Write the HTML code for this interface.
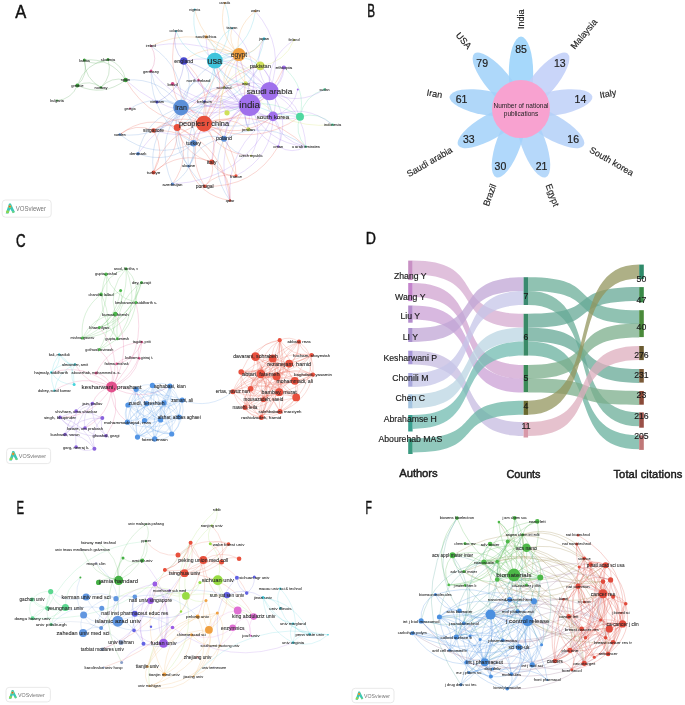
<!DOCTYPE html>
<html><head><meta charset="utf-8"><style>
html,body{margin:0;padding:0;background:#fff;}
body{width:685px;height:705px;overflow:hidden;}
svg{display:block;font-family:"Liberation Sans",sans-serif;filter:blur(0.45px);}
</style></head><body>
<svg width="685" height="705" viewBox="0 0 685 705">
<rect width="685" height="705" fill="#fff"/>
<path d="M269.5 91.2Q263.7 104.9 273.0 116.4M214.8 60.7Q218.9 93.3 249.6 105.0M269.5 91.2Q255.4 92.1 249.6 105.0M249.6 105.0Q257.9 117.7 273.0 116.4M273.0 116.4Q281.8 87.3 260.3 65.8M214.8 60.7Q233.0 92.4 269.5 91.2M269.5 91.2Q272.5 75.7 260.3 65.8M238.9 54.6Q229.1 83.0 249.6 105.0M249.6 105.0Q263.8 61.3 232.0 28.2M273.0 116.4Q269.2 91.7 245.7 83.4M249.6 105.0Q221.2 100.7 204.0 123.7M238.9 54.6Q243.2 82.1 269.5 91.2M305.8 146.6Q304.3 108.0 269.5 91.2M260.3 65.8Q243.2 82.2 249.6 105.0M269.5 91.2Q283.8 83.7 283.9 67.5M269.5 91.2Q227.0 87.8 204.0 123.7M249.6 105.0Q210.1 107.3 193.5 143.2M153.5 130.5Q209.2 146.6 249.6 105.0M172.6 83.8Q204.7 117.5 249.6 105.0M183.8 61.0Q203.5 102.7 249.6 105.0M245.7 83.4Q241.2 95.4 249.6 105.0M273.0 116.4Q280.3 141.3 305.8 146.6M300.0 116.7Q292.4 94.8 269.5 91.2M249.6 105.0Q278.0 96.5 283.9 67.5M249.6 105.0Q214.5 85.7 181.0 107.6M269.5 91.2Q232.5 101.3 224.0 138.7M294.0 40.0Q266.4 58.2 269.5 91.2M269.5 91.2Q259.9 80.2 245.7 83.4M278.3 146.4Q292.0 154.8 305.8 146.6M249.6 105.0Q213.5 122.1 211.7 162.0M278.3 146.4Q290.5 116.2 269.5 91.2M269.5 91.2Q223.8 33.0 151.0 46.0M249.6 105.0Q226.7 114.2 224.0 138.7M269.5 91.2Q220.3 72.9 181.0 107.6M183.8 61.0Q211.8 115.5 273.0 116.4M249.6 105.0Q211.2 146.9 230.0 200.5M269.5 91.2Q286.4 47.0 255.4 11.2M269.5 91.2Q247.5 103.9 248.4 129.2M206.0 36.7Q207.3 83.9 249.6 105.0M249.6 105.0Q179.2 95.9 138.0 153.7M204.5 101.5Q240.1 115.8 269.5 91.2M278.3 146.4Q284.6 129.8 273.0 116.4M224.0 87.4Q231.5 103.9 249.6 105.0M273.0 116.4Q226.3 145.5 230.0 200.5M269.5 91.2Q235.7 50.4 183.8 61.0M172.5 184.0Q243.0 180.3 273.0 116.4M249.6 105.0Q271.3 126.0 300.0 116.7M236.0 175.8Q272.3 157.2 273.0 116.4M249.6 105.0Q241.7 116.7 248.4 129.2M172.6 83.8Q218.8 116.6 269.5 91.2M300.0 116.7Q286.6 108.5 273.0 116.4M198.5 80.0Q216.6 107.8 249.6 105.0M273.0 116.4Q293.5 110.3 297.8 89.4M125.6 80.0Q180.1 129.7 249.6 105.0M151.0 71.0Q190.1 117.6 249.6 105.0M264.0 38.7Q251.0 66.6 269.5 91.2M251.0 155.8Q265.5 130.0 249.6 105.0M269.5 91.2Q297.5 106.8 324.5 89.4M332.6 124.8Q305.3 102.7 273.0 116.4M249.6 105.0Q265.2 142.7 305.8 146.6M249.6 105.0Q251.5 134.3 278.3 146.4" fill="none" stroke="#a070ec" stroke-width="0.55" stroke-opacity="0.42"/>
<path d="M204.0 123.7Q197.3 108.8 181.0 107.6M193.5 143.2Q190.1 130.5 177.2 127.5M204.0 123.7Q212.7 86.3 183.8 61.0M204.0 123.7Q240.7 140.8 273.0 116.4M204.0 123.7Q228.3 95.4 214.8 60.7M204.0 123.7Q254.1 149.0 300.0 116.7M204.0 123.7Q164.1 132.9 153.5 172.4M176.0 31.2Q162.2 85.9 204.0 123.7M177.2 127.5Q164.4 121.9 153.5 130.5M204.0 123.7Q189.5 117.6 177.2 127.5M172.6 83.8Q176.3 113.2 204.0 123.7M188.5 166.2Q199.0 195.8 230.0 200.5M204.0 123.7Q192.9 130.3 193.5 143.2M248.4 129.2Q227.8 113.1 204.0 123.7M238.9 54.6Q200.7 78.7 204.0 123.7M204.0 123.7Q176.7 111.9 153.5 130.5M172.5 184.0Q191.8 157.2 177.2 127.5M236.0 175.8Q217.2 171.6 204.7 186.2M260.3 65.8Q214.8 77.9 204.0 123.7M245.7 83.4Q212.8 91.0 204.0 123.7M236.0 175.8Q235.6 140.2 204.0 123.7M177.2 127.5Q184.1 155.1 211.7 162.0M245.7 83.4Q198.2 84.9 177.2 127.5M211.7 162.0Q192.0 128.8 153.5 130.5M204.0 123.7Q260.8 119.6 283.9 67.5M204.0 123.7Q185.6 155.2 204.7 186.2M211.7 162.0Q219.3 140.5 204.0 123.7M224.0 138.7Q204.0 119.1 177.2 127.5M211.7 162.0Q179.5 149.7 153.5 172.4M153.5 172.4Q178.8 157.1 177.2 127.5M204.0 123.7Q217.9 153.8 251.0 155.8M230.0 200.5Q225.5 148.2 177.2 127.5M204.7 186.2Q253.4 188.4 278.3 146.4M177.2 127.5Q146.4 113.8 119.8 134.5M305.8 146.6Q261.8 104.6 204.0 123.7M125.6 80.0Q151.7 125.4 204.0 123.7M153.5 130.5Q135.5 122.4 119.8 134.5M153.5 172.4Q166.1 151.4 153.5 130.5M230.0 200.5Q232.4 175.8 211.7 162.0M211.7 162.0Q219.7 176.2 236.0 175.8M204.7 186.2Q215.5 176.2 211.7 162.0" fill="none" stroke="#e8503c" stroke-width="0.55" stroke-opacity="0.42"/>
<path d="M181.0 107.6Q167.2 139.1 188.5 166.2M181.0 107.6Q224.4 139.6 273.0 116.4M138.0 153.7Q168.9 165.1 193.5 143.2M181.0 107.6Q155.2 92.8 130.0 108.6M224.0 138.7Q211.8 110.2 181.0 107.6M193.5 143.2Q197.9 121.6 181.0 107.6M119.8 134.5Q154.0 161.0 193.5 143.2M224.0 138.7Q208.5 171.4 230.0 200.5M181.0 107.6Q173.1 116.4 177.2 127.5M181.0 107.6Q196.4 85.1 183.8 61.0M224.0 138.7Q207.4 131.8 193.5 143.2M181.0 107.6Q233.2 110.5 260.3 65.8M181.0 107.6Q147.8 131.8 153.5 172.4M238.9 54.6Q194.0 63.7 181.0 107.6M181.0 107.6Q169.3 154.0 204.7 186.2M198.5 80.0Q181.5 88.5 181.0 107.6M305.8 146.6Q267.3 118.1 224.0 138.7M224.0 87.4Q182.6 116.1 188.5 166.2M151.0 71.0Q150.6 119.8 193.5 143.2M153.5 130.5Q174.1 127.3 181.0 107.6M181.0 107.6Q145.7 117.7 138.0 153.7M224.0 138.7Q198.0 141.8 188.5 166.2M181.0 107.6Q161.6 77.2 125.6 80.0M151.0 71.0Q155.0 98.3 181.0 107.6M181.0 107.6Q184.5 67.8 151.0 46.0M181.0 107.6Q170.7 97.6 157.0 102.0M224.0 138.7Q232.4 155.3 251.0 155.8M188.5 166.2Q197.9 156.2 193.5 143.2M172.5 184.0Q195.2 169.9 193.5 143.2M181.0 107.6Q153.8 143.2 172.5 184.0M119.8 134.5Q158.5 139.4 181.0 107.6M181.0 107.6Q194.6 111.6 204.5 101.5" fill="none" stroke="#5b8fd8" stroke-width="0.55" stroke-opacity="0.42"/>
<path d="M238.9 54.6Q225.0 50.4 214.8 60.7M181.0 107.6Q212.0 94.3 214.8 60.7M214.8 60.7Q240.6 114.3 300.0 116.7M260.3 65.8Q239.1 49.6 214.8 60.7M273.0 116.4Q260.6 71.1 214.8 60.7M224.0 87.4Q258.6 75.1 264.0 38.7M232.0 28.2Q213.7 39.3 214.8 60.7M177.2 127.5Q216.0 105.4 214.8 60.7M214.8 60.7Q223.4 81.3 245.7 83.4M214.8 60.7Q237.1 34.8 224.7 3.0M194.7 9.5Q189.4 41.1 214.8 60.7M176.0 31.2Q186.6 57.6 214.8 60.7M214.8 60.7Q246.0 64.5 264.0 38.7M214.8 60.7Q217.6 46.1 206.0 36.7M214.8 60.7Q250.0 48.1 255.4 11.2M214.8 60.7Q211.4 76.8 224.0 87.4" fill="none" stroke="#40c4dc" stroke-width="0.55" stroke-opacity="0.42"/>
<path d="M238.9 54.6Q209.4 41.3 183.8 61.0M238.9 54.6Q221.6 66.5 224.0 87.4M238.9 54.6Q256.2 54.2 264.0 38.7M238.9 54.6Q201.1 114.3 236.0 175.8M238.9 54.6Q233.7 71.0 245.7 83.4M224.0 138.7Q256.7 101.1 238.9 54.6M255.4 11.2Q234.1 27.9 238.9 54.6M238.9 54.6Q197.5 23.9 151.0 46.0M194.7 9.5Q203.3 45.3 238.9 54.6M260.3 65.8Q253.0 53.8 238.9 54.6M224.7 3.0Q216.3 33.1 238.9 54.6M232.0 28.2Q227.5 43.5 238.9 54.6M206.0 36.7Q217.1 55.5 238.9 54.6" fill="none" stroke="#f0a040" stroke-width="0.55" stroke-opacity="0.42"/>
<path d="M224.0 87.4Q217.9 101.0 227.0 112.8M260.3 65.8Q235.7 65.7 224.0 87.4M260.3 65.8Q284.9 63.0 294.0 40.0M245.7 83.4Q276.7 130.2 332.6 124.8" fill="none" stroke="#cfe05a" stroke-width="0.55" stroke-opacity="0.42"/>
<path d="M157.0 102.0Q182.7 89.5 183.8 61.0M248.4 129.2Q236.6 75.7 183.8 61.0M176.0 31.2Q171.0 48.4 183.8 61.0" fill="none" stroke="#4a4ad0" stroke-width="0.55" stroke-opacity="0.42"/>
<path d="M300.0 116.7Q306.7 87.3 283.9 67.5M300.0 116.7Q264.7 92.8 227.0 112.8M324.5 89.4Q304.1 95.7 300.0 116.7M332.6 124.8Q318.7 111.0 300.0 116.7M300.0 116.7Q293.9 133.4 305.8 146.6" fill="none" stroke="#50d8a0" stroke-width="0.55" stroke-opacity="0.42"/>
<path d="M151.0 71.0Q158.5 58.5 151.0 46.0" fill="none" stroke="#d04a8a" stroke-width="0.55" stroke-opacity="0.42"/>
<path d="M84.4 60.0Q96.4 66.8 108.0 59.4M125.6 80.0Q111.0 57.6 84.4 60.0M84.4 60.0Q84.5 78.7 101.0 87.4M125.6 80.0Q123.0 64.4 108.0 59.4M77.4 85.4Q88.5 74.8 84.4 60.0M108.0 59.4Q84.9 63.2 77.4 85.4M77.4 85.4Q103.1 97.2 125.6 80.0M101.0 87.4Q89.8 79.3 77.4 85.4M101.0 87.4Q112.9 75.5 108.0 59.4M125.6 80.0Q111.1 76.3 101.0 87.4M57.0 100.6Q71.8 99.1 77.4 85.4" fill="none" stroke="#3c9c3c" stroke-width="0.55" stroke-opacity="0.42"/>
<circle cx="251.0" cy="155.8" r="1.0" fill="#cfe05a"/>
<circle cx="297.8" cy="89.4" r="1.0" fill="#a070ec"/>
<circle cx="57.0" cy="100.6" r="1.0" fill="#3c9c3c"/>
<circle cx="151.0" cy="46.0" r="1.0" fill="#d04a8a"/>
<circle cx="130.0" cy="108.6" r="1.0" fill="#d04a8a"/>
<circle cx="224.7" cy="3.0" r="1.0" fill="#f0a040"/>
<circle cx="194.7" cy="9.5" r="1.0" fill="#40c4dc"/>
<circle cx="255.4" cy="11.2" r="1.0" fill="#f0a040"/>
<circle cx="176.0" cy="31.2" r="1.0" fill="#40c4dc"/>
<circle cx="232.0" cy="28.2" r="1.0" fill="#40c4dc"/>
<circle cx="294.0" cy="40.0" r="1.0" fill="#cfe05a"/>
<circle cx="224.0" cy="87.4" r="1.0" fill="#cfe05a"/>
<circle cx="230.0" cy="200.5" r="1.2" fill="#e8503c"/>
<circle cx="188.5" cy="166.2" r="1.2" fill="#5b8fd8"/>
<circle cx="278.3" cy="146.4" r="1.2" fill="#a070ec"/>
<circle cx="305.8" cy="146.6" r="1.2" fill="#50d8a0"/>
<circle cx="332.6" cy="124.8" r="1.2" fill="#50d8a0"/>
<circle cx="324.5" cy="89.4" r="1.2" fill="#50d8a0"/>
<circle cx="119.8" cy="134.5" r="1.2" fill="#5b8fd8"/>
<circle cx="101.0" cy="87.4" r="1.2" fill="#3c9c3c"/>
<circle cx="198.5" cy="80.0" r="1.2" fill="#d04a8a"/>
<circle cx="204.5" cy="101.5" r="1.2" fill="#4a4ad0"/>
<circle cx="172.5" cy="184.0" r="1.5" fill="#5b8fd8"/>
<circle cx="84.4" cy="60.0" r="1.5" fill="#3c9c3c"/>
<circle cx="108.0" cy="59.4" r="1.5" fill="#3c9c3c"/>
<circle cx="151.0" cy="71.0" r="1.5" fill="#d04a8a"/>
<circle cx="157.0" cy="102.0" r="1.5" fill="#4a4ad0"/>
<circle cx="206.0" cy="36.7" r="1.5" fill="#f0a040"/>
<circle cx="264.0" cy="38.7" r="1.5" fill="#40c4dc"/>
<circle cx="236.0" cy="175.8" r="1.6" fill="#e8503c"/>
<circle cx="138.0" cy="153.7" r="1.8" fill="#5b8fd8"/>
<circle cx="204.7" cy="186.2" r="1.8" fill="#e8503c"/>
<circle cx="172.6" cy="83.8" r="1.8" fill="#d04a8a"/>
<circle cx="248.4" cy="129.2" r="2.0" fill="#cfe05a"/>
<circle cx="153.5" cy="172.4" r="2.0" fill="#e8503c"/>
<circle cx="77.4" cy="85.4" r="2.0" fill="#3c9c3c"/>
<circle cx="283.9" cy="67.5" r="2.1" fill="#a070ec"/>
<circle cx="245.7" cy="83.4" r="2.1" fill="#cfe05a"/>
<circle cx="125.6" cy="80.0" r="2.2" fill="#3c9c3c"/>
<circle cx="153.5" cy="130.5" r="2.3" fill="#e8503c"/>
<circle cx="211.7" cy="162.0" r="2.6" fill="#e8503c"/>
<circle cx="227.0" cy="112.8" r="2.6" fill="#cfe05a"/>
<circle cx="224.0" cy="138.7" r="3.0" fill="#5b8fd8"/>
<circle cx="193.5" cy="143.2" r="3.3" fill="#5b8fd8"/>
<circle cx="177.2" cy="127.5" r="3.5" fill="#e8503c"/>
<circle cx="183.8" cy="61.0" r="3.8" fill="#4a4ad0"/>
<circle cx="300.0" cy="116.7" r="4.0" fill="#50d8a0"/>
<circle cx="260.3" cy="65.8" r="4.4" fill="#cfe05a"/>
<circle cx="273.0" cy="116.4" r="4.9" fill="#a070ec"/>
<circle cx="238.9" cy="54.6" r="6.5" fill="#f0a040"/>
<circle cx="181.0" cy="107.6" r="7.8" fill="#5b8fd8"/>
<circle cx="214.8" cy="60.7" r="7.9" fill="#40c4dc"/>
<circle cx="204.0" cy="123.7" r="8.0" fill="#e8503c"/>
<circle cx="269.5" cy="91.2" r="9.1" fill="#a070ec"/>
<circle cx="249.6" cy="105.0" r="10.9" fill="#a070ec"/>
<text x="249.6" y="105.2" font-size="9.01" text-anchor="middle" dominant-baseline="central" fill="#262626" fill-opacity="1.0" stroke="#262626" stroke-width="0.14" stroke-opacity="0.8" textLength="20.7" lengthAdjust="spacingAndGlyphs">india</text>
<text x="269.5" y="91.4" font-size="7.98" text-anchor="middle" dominant-baseline="central" fill="#262626" fill-opacity="1.0" stroke="#262626" stroke-width="0.12" stroke-opacity="0.8" textLength="45.7" lengthAdjust="spacingAndGlyphs">saudi arabia</text>
<text x="214.8" y="60.9" font-size="9.11" text-anchor="middle" dominant-baseline="central" fill="#262626" fill-opacity="1.0" stroke="#262626" stroke-width="0.14" stroke-opacity="0.8" textLength="15.0" lengthAdjust="spacingAndGlyphs">usa</text>
<text x="238.9" y="54.8" font-size="6.30" text-anchor="middle" dominant-baseline="central" fill="#262626" fill-opacity="1.0" stroke="#262626" stroke-width="0.09" stroke-opacity="0.8" textLength="16.2" lengthAdjust="spacingAndGlyphs">egypt</text>
<text x="181.0" y="107.8" font-size="6.38" text-anchor="middle" dominant-baseline="central" fill="#262626" fill-opacity="1.0" stroke="#262626" stroke-width="0.10" stroke-opacity="0.8" textLength="11.7" lengthAdjust="spacingAndGlyphs">iran</text>
<text x="204.0" y="123.9" font-size="7.01" text-anchor="middle" dominant-baseline="central" fill="#262626" fill-opacity="1.0" stroke="#262626" stroke-width="0.11" stroke-opacity="0.8" textLength="50.0" lengthAdjust="spacingAndGlyphs">peoples r china</text>
<text x="273.0" y="116.6" font-size="5.83" text-anchor="middle" dominant-baseline="central" fill="#262626" fill-opacity="1.0" stroke="#262626" stroke-width="0.09" stroke-opacity="0.8" textLength="32.5" lengthAdjust="spacingAndGlyphs">south korea</text>
<text x="260.3" y="66.0" font-size="5.37" text-anchor="middle" dominant-baseline="central" fill="#262626" fill-opacity="1.0" stroke="#262626" stroke-width="0.08" stroke-opacity="0.8" textLength="21.2" lengthAdjust="spacingAndGlyphs">pakistan</text>
<text x="183.8" y="61.2" font-size="5.05" text-anchor="middle" dominant-baseline="central" fill="#262626" fill-opacity="1.0" stroke="#262626" stroke-width="0.08" stroke-opacity="0.8" textLength="19.0" lengthAdjust="spacingAndGlyphs">england</text>
<text x="193.5" y="143.4" font-size="5.14" text-anchor="middle" dominant-baseline="central" fill="#262626" fill-opacity="1.0" stroke="#262626" stroke-width="0.08" stroke-opacity="0.8" textLength="15.2" lengthAdjust="spacingAndGlyphs">turkey</text>
<text x="224.0" y="138.9" font-size="4.97" text-anchor="middle" dominant-baseline="central" fill="#262626" fill-opacity="1.0" stroke="#262626" stroke-width="0.07" stroke-opacity="0.8" textLength="16.2" lengthAdjust="spacingAndGlyphs">poland</text>
<text x="211.7" y="162.2" font-size="5.20" text-anchor="middle" dominant-baseline="central" fill="#262626" fill-opacity="1.0" stroke="#262626" stroke-width="0.08" stroke-opacity="0.8" textLength="10.0" lengthAdjust="spacingAndGlyphs">italy</text>
<text x="283.9" y="67.7" font-size="4.38" text-anchor="middle" dominant-baseline="central" fill="#262626" fill-opacity="1.0" stroke="#262626" stroke-width="0.07" stroke-opacity="0.8" textLength="16.7" lengthAdjust="spacingAndGlyphs">ethiopia</text>
<text x="245.7" y="83.6" font-size="4.36" text-anchor="middle" dominant-baseline="central" fill="#262626" fill-opacity="1.0" stroke="#262626" stroke-width="0.07" stroke-opacity="0.8" textLength="8.0" lengthAdjust="spacingAndGlyphs">iraq</text>
<text x="248.4" y="129.4" font-size="4.33" text-anchor="middle" dominant-baseline="central" fill="#262626" fill-opacity="1.0" stroke="#262626" stroke-width="0.06" stroke-opacity="0.8" textLength="13.2" lengthAdjust="spacingAndGlyphs">jordan</text>
<text x="153.5" y="130.7" font-size="4.53" text-anchor="middle" dominant-baseline="central" fill="#262626" fill-opacity="1.0" stroke="#262626" stroke-width="0.07" stroke-opacity="0.8" textLength="21.0" lengthAdjust="spacingAndGlyphs">singapore</text>
<text x="138.0" y="153.9" font-size="4.04" text-anchor="middle" dominant-baseline="central" fill="#262626" fill-opacity="1.0" stroke="#262626" stroke-width="0.06" stroke-opacity="0.8" textLength="17.0" lengthAdjust="spacingAndGlyphs">denmark</text>
<text x="153.5" y="172.6" font-size="4.20" text-anchor="middle" dominant-baseline="central" fill="#262626" fill-opacity="1.0" stroke="#262626" stroke-width="0.06" stroke-opacity="0.8" textLength="13.5" lengthAdjust="spacingAndGlyphs">turkiye</text>
<text x="204.7" y="186.4" font-size="4.56" text-anchor="middle" dominant-baseline="central" fill="#262626" fill-opacity="1.0" stroke="#262626" stroke-width="0.07" stroke-opacity="0.8" textLength="18.0" lengthAdjust="spacingAndGlyphs">portugal</text>
<text x="236.0" y="176.0" font-size="4.06" text-anchor="middle" dominant-baseline="central" fill="#262626" fill-opacity="1.0" stroke="#262626" stroke-width="0.06" stroke-opacity="0.8" textLength="12.0" lengthAdjust="spacingAndGlyphs">france</text>
<text x="230.0" y="200.7" font-size="3.50" text-anchor="middle" dominant-baseline="central" fill="#262626" fill-opacity="1.0" stroke="#262626" stroke-width="0.05" stroke-opacity="0.8" textLength="8.7" lengthAdjust="spacingAndGlyphs">qatar</text>
<text x="172.5" y="184.2" font-size="4.13" text-anchor="middle" dominant-baseline="central" fill="#262626" fill-opacity="1.0" stroke="#262626" stroke-width="0.06" stroke-opacity="0.8" textLength="20.0" lengthAdjust="spacingAndGlyphs">azerbaijan</text>
<text x="188.5" y="166.4" font-size="3.74" text-anchor="middle" dominant-baseline="central" fill="#262626" fill-opacity="1.0" stroke="#262626" stroke-width="0.06" stroke-opacity="0.8" textLength="13.2" lengthAdjust="spacingAndGlyphs">ukraine</text>
<text x="251.0" y="156.0" font-size="3.56" text-anchor="middle" dominant-baseline="central" fill="#262626" fill-opacity="1.0" stroke="#262626" stroke-width="0.05" stroke-opacity="0.8" textLength="23.7" lengthAdjust="spacingAndGlyphs">czech republic</text>
<text x="278.3" y="146.6" font-size="3.70" text-anchor="middle" dominant-baseline="central" fill="#262626" fill-opacity="1.0" stroke="#262626" stroke-width="0.06" stroke-opacity="0.8" textLength="10.0" lengthAdjust="spacingAndGlyphs">oman</text>
<text x="305.8" y="146.8" font-size="3.83" text-anchor="middle" dominant-baseline="central" fill="#262626" fill-opacity="1.0" stroke="#262626" stroke-width="0.06" stroke-opacity="0.8" textLength="28.2" lengthAdjust="spacingAndGlyphs">u arab emirates</text>
<text x="332.6" y="125.0" font-size="3.73" text-anchor="middle" dominant-baseline="central" fill="#262626" fill-opacity="1.0" stroke="#262626" stroke-width="0.06" stroke-opacity="0.8" textLength="17.0" lengthAdjust="spacingAndGlyphs">indonesia</text>
<text x="324.5" y="89.6" font-size="3.48" text-anchor="middle" dominant-baseline="central" fill="#262626" fill-opacity="1.0" stroke="#262626" stroke-width="0.05" stroke-opacity="0.8" textLength="10.0" lengthAdjust="spacingAndGlyphs">sudan</text>
<text x="119.8" y="134.7" font-size="3.19" text-anchor="middle" dominant-baseline="central" fill="#262626" fill-opacity="1.0" stroke="#262626" stroke-width="0.05" stroke-opacity="0.8" textLength="11.5" lengthAdjust="spacingAndGlyphs">sweden</text>
<text x="84.4" y="60.2" font-size="4.23" text-anchor="middle" dominant-baseline="central" fill="#262626" fill-opacity="1.0" stroke="#262626" stroke-width="0.06" stroke-opacity="0.8" textLength="10.5" lengthAdjust="spacingAndGlyphs">latvia</text>
<text x="108.0" y="59.6" font-size="3.79" text-anchor="middle" dominant-baseline="central" fill="#262626" fill-opacity="1.0" stroke="#262626" stroke-width="0.06" stroke-opacity="0.8" textLength="14.5" lengthAdjust="spacingAndGlyphs">slovenia</text>
<text x="125.6" y="80.2" font-size="3.77" text-anchor="middle" dominant-baseline="central" fill="#262626" fill-opacity="1.0" stroke="#262626" stroke-width="0.06" stroke-opacity="0.8" textLength="9.5" lengthAdjust="spacingAndGlyphs">spain</text>
<text x="77.4" y="85.6" font-size="4.01" text-anchor="middle" dominant-baseline="central" fill="#262626" fill-opacity="1.0" stroke="#262626" stroke-width="0.06" stroke-opacity="0.8" textLength="12.5" lengthAdjust="spacingAndGlyphs">greece</text>
<text x="101.0" y="87.6" font-size="3.76" text-anchor="middle" dominant-baseline="central" fill="#262626" fill-opacity="1.0" stroke="#262626" stroke-width="0.06" stroke-opacity="0.8" textLength="13.0" lengthAdjust="spacingAndGlyphs">norway</text>
<text x="57.0" y="100.8" font-size="3.54" text-anchor="middle" dominant-baseline="central" fill="#262626" fill-opacity="1.0" stroke="#262626" stroke-width="0.05" stroke-opacity="0.8" textLength="13.5" lengthAdjust="spacingAndGlyphs">bulgaria</text>
<text x="151.0" y="46.2" font-size="3.21" text-anchor="middle" dominant-baseline="central" fill="#262626" fill-opacity="1.0" stroke="#262626" stroke-width="0.05" stroke-opacity="0.8" textLength="10.5" lengthAdjust="spacingAndGlyphs">ireland</text>
<text x="151.0" y="71.2" font-size="3.89" text-anchor="middle" dominant-baseline="central" fill="#262626" fill-opacity="1.0" stroke="#262626" stroke-width="0.06" stroke-opacity="0.8" textLength="16.0" lengthAdjust="spacingAndGlyphs">germany</text>
<text x="157.0" y="102.2" font-size="3.71" text-anchor="middle" dominant-baseline="central" fill="#262626" fill-opacity="1.0" stroke="#262626" stroke-width="0.06" stroke-opacity="0.8" textLength="14.0" lengthAdjust="spacingAndGlyphs">vietnam</text>
<text x="130.0" y="108.8" font-size="3.16" text-anchor="middle" dominant-baseline="central" fill="#262626" fill-opacity="1.0" stroke="#262626" stroke-width="0.05" stroke-opacity="0.8" textLength="11.0" lengthAdjust="spacingAndGlyphs">georgia</text>
<text x="224.7" y="3.2" font-size="3.26" text-anchor="middle" dominant-baseline="central" fill="#262626" fill-opacity="1.0" stroke="#262626" stroke-width="0.05" stroke-opacity="0.8" textLength="11.0" lengthAdjust="spacingAndGlyphs">canada</text>
<text x="194.7" y="9.7" font-size="3.44" text-anchor="middle" dominant-baseline="central" fill="#262626" fill-opacity="1.0" stroke="#262626" stroke-width="0.05" stroke-opacity="0.8" textLength="11.0" lengthAdjust="spacingAndGlyphs">nigeria</text>
<text x="255.4" y="11.4" font-size="3.43" text-anchor="middle" dominant-baseline="central" fill="#262626" fill-opacity="1.0" stroke="#262626" stroke-width="0.05" stroke-opacity="0.8" textLength="9.0" lengthAdjust="spacingAndGlyphs">wales</text>
<text x="176.0" y="31.4" font-size="3.02" text-anchor="middle" dominant-baseline="central" fill="#262626" fill-opacity="1.0" stroke="#262626" stroke-width="0.05" stroke-opacity="0.8" textLength="13.0" lengthAdjust="spacingAndGlyphs">colombia</text>
<text x="232.0" y="28.4" font-size="3.54" text-anchor="middle" dominant-baseline="central" fill="#262626" fill-opacity="1.0" stroke="#262626" stroke-width="0.05" stroke-opacity="0.8" textLength="11.0" lengthAdjust="spacingAndGlyphs">taiwan</text>
<text x="206.0" y="36.9" font-size="4.00" text-anchor="middle" dominant-baseline="central" fill="#262626" fill-opacity="1.0" stroke="#262626" stroke-width="0.06" stroke-opacity="0.8" textLength="21.0" lengthAdjust="spacingAndGlyphs">southafrica</text>
<text x="264.0" y="38.9" font-size="3.85" text-anchor="middle" dominant-baseline="central" fill="#262626" fill-opacity="1.0" stroke="#262626" stroke-width="0.06" stroke-opacity="0.8" textLength="10.0" lengthAdjust="spacingAndGlyphs">japan</text>
<text x="294.0" y="40.2" font-size="3.39" text-anchor="middle" dominant-baseline="central" fill="#262626" fill-opacity="1.0" stroke="#262626" stroke-width="0.05" stroke-opacity="0.8" textLength="11.0" lengthAdjust="spacingAndGlyphs">finland</text>
<text x="198.5" y="80.2" font-size="3.92" text-anchor="middle" dominant-baseline="central" fill="#262626" fill-opacity="1.0" stroke="#262626" stroke-width="0.06" stroke-opacity="0.8" textLength="24.0" lengthAdjust="spacingAndGlyphs">north ireland</text>
<text x="224.0" y="87.6" font-size="3.79" text-anchor="middle" dominant-baseline="central" fill="#262626" fill-opacity="1.0" stroke="#262626" stroke-width="0.06" stroke-opacity="0.8" textLength="15.0" lengthAdjust="spacingAndGlyphs">scotland</text>
<text x="172.6" y="84.0" font-size="3.91" text-anchor="middle" dominant-baseline="central" fill="#262626" fill-opacity="1.0" stroke="#262626" stroke-width="0.06" stroke-opacity="0.8" textLength="10.0" lengthAdjust="spacingAndGlyphs">brazil</text>
<text x="204.5" y="101.7" font-size="3.97" text-anchor="middle" dominant-baseline="central" fill="#262626" fill-opacity="1.0" stroke="#262626" stroke-width="0.06" stroke-opacity="0.8" textLength="15.0" lengthAdjust="spacingAndGlyphs">belgium</text>
<rect x="2.2" y="200.0" width="49.0" height="17.2" rx="3.2" fill="#fff" stroke="#e6e6e6" stroke-width="0.9"/>
<path d="M5.70 213.60L9.01 203.60L10.85 203.60L14.90 212.10L12.88 213.30L10.30 209.10L8.46 213.60Z" fill="#3cc8b4"/>
<ellipse cx="7.54" cy="211.80" rx="1.56" ry="1.50" fill="#9ad840" fill-opacity="0.85"/>
<ellipse cx="13.24" cy="212.10" rx="1.29" ry="1.00" fill="#7ad870" fill-opacity="0.7"/>
<circle cx="9.84" cy="206.60" r="1.38" fill="#e0c040"/>
<circle cx="9.84" cy="206.60" r="0.74" fill="#d04030"/>
<text x="15.8" y="211.0" font-size="6.70" fill="#777" textLength="30.2" lengthAdjust="spacingAndGlyphs">VOSviewer</text>
<text transform="translate(15.30 18.00) scale(0.946 1)" font-size="17.44" fill="#111" stroke="#111" stroke-width="0.45">A</text>
<ellipse cx="521.00" cy="73.10" rx="12.2" ry="36.5" fill="#96d1fa" fill-opacity="0.85" transform="rotate(0 521.00 109.10)"/>
<ellipse cx="521.00" cy="73.10" rx="12.2" ry="36.5" fill="#bfcef8" fill-opacity="0.85" transform="rotate(40 521.00 109.10)"/>
<ellipse cx="521.00" cy="73.10" rx="12.2" ry="36.5" fill="#bed0f8" fill-opacity="0.85" transform="rotate(80 521.00 109.10)"/>
<ellipse cx="521.00" cy="73.10" rx="12.2" ry="36.5" fill="#b3d0f8" fill-opacity="0.85" transform="rotate(120 521.00 109.10)"/>
<ellipse cx="521.00" cy="73.10" rx="12.2" ry="36.5" fill="#a9d1f9" fill-opacity="0.85" transform="rotate(160 521.00 109.10)"/>
<ellipse cx="521.00" cy="73.10" rx="12.2" ry="36.5" fill="#a2d1fa" fill-opacity="0.85" transform="rotate(200 521.00 109.10)"/>
<ellipse cx="521.00" cy="73.10" rx="12.2" ry="36.5" fill="#a2d1f9" fill-opacity="0.85" transform="rotate(240 521.00 109.10)"/>
<ellipse cx="521.00" cy="73.10" rx="12.2" ry="36.5" fill="#a2d0f8" fill-opacity="0.85" transform="rotate(280 521.00 109.10)"/>
<ellipse cx="521.00" cy="73.10" rx="12.2" ry="36.5" fill="#a0d1f9" fill-opacity="0.85" transform="rotate(320 521.00 109.10)"/>
<circle cx="521.0" cy="109.1" r="29" fill="#f8a2d0"/>
<text x="521.0" y="108.1" font-size="6.51" text-anchor="middle" fill="#222">Number of national</text>
<text x="521.0" y="115.9" font-size="6.51" text-anchor="middle" fill="#222">publications</text>
<text x="521.0" y="48.8" font-size="10.5" text-anchor="middle" dominant-baseline="central" fill="#222" stroke="#222" stroke-width="0.2">85</text>
<text x="521.0" y="29.1" font-size="9.1" text-anchor="start" dominant-baseline="central" fill="#222" stroke="#222" stroke-width="0.15" transform="rotate(-90 521.0 29.1)">India</text>
<text x="559.8" y="62.9" font-size="10.5" text-anchor="middle" dominant-baseline="central" fill="#222" stroke="#222" stroke-width="0.2">13</text>
<text x="572.4" y="47.8" font-size="9.1" text-anchor="start" dominant-baseline="central" fill="#222" stroke="#222" stroke-width="0.15" transform="rotate(-50 572.4 47.8)">Malaysia</text>
<text x="580.4" y="98.6" font-size="10.5" text-anchor="middle" dominant-baseline="central" fill="#222" stroke="#222" stroke-width="0.2">14</text>
<text x="599.8" y="95.2" font-size="9.1" text-anchor="start" dominant-baseline="central" fill="#222" stroke="#222" stroke-width="0.15" transform="rotate(-10 599.8 95.2)">Italy</text>
<text x="573.2" y="139.2" font-size="10.5" text-anchor="middle" dominant-baseline="central" fill="#222" stroke="#222" stroke-width="0.2">16</text>
<text x="590.3" y="149.1" font-size="9.1" text-anchor="start" dominant-baseline="central" fill="#222" stroke="#222" stroke-width="0.15" transform="rotate(30 590.3 149.1)">South korea</text>
<text x="541.6" y="165.8" font-size="10.5" text-anchor="middle" dominant-baseline="central" fill="#222" stroke="#222" stroke-width="0.2">21</text>
<text x="548.4" y="184.3" font-size="9.1" text-anchor="start" dominant-baseline="central" fill="#222" stroke="#222" stroke-width="0.15" transform="rotate(70 548.4 184.3)">Egypt</text>
<text x="500.4" y="165.8" font-size="10.5" text-anchor="middle" dominant-baseline="central" fill="#222" stroke="#222" stroke-width="0.2">30</text>
<text x="493.6" y="184.3" font-size="9.1" text-anchor="end" dominant-baseline="central" fill="#222" stroke="#222" stroke-width="0.15" transform="rotate(-70 493.6 184.3)">Brazil</text>
<text x="468.8" y="139.3" font-size="10.5" text-anchor="middle" dominant-baseline="central" fill="#222" stroke="#222" stroke-width="0.2">33</text>
<text x="451.7" y="149.1" font-size="9.1" text-anchor="end" dominant-baseline="central" fill="#222" stroke="#222" stroke-width="0.15" transform="rotate(-30 451.7 149.1)">Saudi arabia</text>
<text x="461.6" y="98.6" font-size="10.5" text-anchor="middle" dominant-baseline="central" fill="#222" stroke="#222" stroke-width="0.2">61</text>
<text x="442.2" y="95.2" font-size="9.1" text-anchor="end" dominant-baseline="central" fill="#222" stroke="#222" stroke-width="0.15" transform="rotate(10 442.2 95.2)">Iran</text>
<text x="482.2" y="62.9" font-size="10.5" text-anchor="middle" dominant-baseline="central" fill="#222" stroke="#222" stroke-width="0.2">79</text>
<text x="469.6" y="47.8" font-size="9.1" text-anchor="end" dominant-baseline="central" fill="#222" stroke="#222" stroke-width="0.15" transform="rotate(50 469.6 47.8)">USA</text>
<text transform="translate(367.30 17.20) scale(0.659 1)" font-size="17.73" fill="#111" stroke="#111" stroke-width="0.45">B</text>
<path d="M126.0 268.7Q106.3 274.5 101.0 294.4M136.0 302.4Q140.4 282.7 126.0 268.7M126.0 268.7Q107.9 288.4 115.3 314.1M99.3 327.5Q129.1 305.6 126.0 268.7M117.3 338.7Q141.2 306.1 126.0 268.7M106.0 274.2Q113.1 296.7 136.0 302.4M82.4 338.0Q112.1 312.7 106.0 274.2M106.0 274.2Q93.6 309.6 117.3 338.7M141.5 282.4Q133.2 290.9 136.0 302.4M99.3 327.5Q133.0 316.8 141.5 282.4M82.4 338.0Q127.5 326.7 141.5 282.4M141.5 282.4Q113.6 303.8 117.3 338.7M101.0 294.4Q111.9 297.9 120.6 290.4M115.3 314.1Q124.6 303.7 120.6 290.4M82.4 338.0Q114.8 324.9 120.6 290.4M101.0 294.4Q79.5 311.0 82.4 338.0M99.3 349.5Q115.6 322.4 101.0 294.4M82.4 338.0Q119.2 335.2 136.0 302.4M99.3 349.5Q130.8 336.2 136.0 302.4M99.3 327.5Q111.1 325.3 115.3 314.1M115.3 314.1Q92.2 316.8 82.4 338.0M115.3 314.1Q109.4 327.0 117.3 338.7M99.3 349.5Q117.2 336.3 115.3 314.1" fill="none" stroke="#4cb84c" stroke-width="0.5" stroke-opacity="0.4"/>
<path d="M141.8 342.0Q136.0 349.4 139.3 358.2M116.6 363.7Q135.3 359.9 141.8 342.0M141.8 342.0Q110.3 344.7 96.1 373.0M139.3 358.2Q126.4 354.6 116.6 363.7M111.6 386.9Q133.5 380.3 139.3 358.2M111.6 386.9Q133.8 351.5 115.3 314.1M111.6 386.9Q115.9 364.8 99.3 349.5M111.6 386.9Q139.3 372.9 141.8 342.0M111.6 386.9Q120.6 376.7 116.6 363.7M111.6 386.9Q107.7 375.6 96.1 373.0M75.0 364.4Q87.0 385.9 111.6 386.9M111.6 386.9Q85.5 362.7 51.2 372.4M111.6 386.9Q82.0 372.7 54.4 390.6M111.6 386.9Q97.3 389.9 92.4 403.6M85.0 428.0Q109.8 414.9 111.6 386.9M106.0 435.7Q122.5 412.9 111.6 386.9M111.6 386.9Q141.0 402.8 169.9 386.1M146.6 403.6Q133.8 385.4 111.6 386.9M111.6 386.9Q109.6 409.0 127.4 422.2M111.6 386.9Q122.1 353.8 99.3 327.5M111.6 386.9Q147.5 351.5 136.0 302.4M60.0 417.4Q94.3 416.6 111.6 386.9" fill="none" stroke="#e2508c" stroke-width="0.5" stroke-opacity="0.4"/>
<path d="M59.2 354.4Q64.3 363.8 75.0 364.4M51.2 372.4Q60.2 365.6 59.2 354.4M74.1 384.4Q75.1 365.2 59.2 354.4M59.2 354.4Q46.7 371.2 54.4 390.6M75.0 364.4Q60.9 361.7 51.2 372.4M75.0 364.4Q69.0 374.1 74.1 384.4M75.0 364.4Q57.4 371.7 54.4 390.6M51.2 372.4Q59.3 384.8 74.1 384.4" fill="none" stroke="#48d4dc" stroke-width="0.5" stroke-opacity="0.4"/>
<path d="M92.4 403.6Q82.2 402.8 76.1 411.1M92.4 403.6Q81.9 413.7 85.0 428.0M92.4 403.6Q70.0 411.4 65.0 434.5M92.4 403.6Q90.2 423.5 106.0 435.7M92.4 403.6Q72.1 420.7 76.1 447.0M65.0 434.5Q77.1 425.9 76.1 411.1M102.3 418.1Q81.3 405.9 60.0 417.4M60.0 417.4Q69.5 429.7 85.0 428.0M60.0 417.4Q77.9 439.4 106.0 435.7M94.4 448.7Q86.0 423.4 60.0 417.4M102.3 418.1Q90.9 418.2 85.0 428.0M102.3 418.1Q79.1 415.9 65.0 434.5M102.3 418.1Q99.2 427.9 106.0 435.7M102.3 418.1Q89.8 431.2 94.4 448.7M85.0 428.0Q93.3 437.7 106.0 435.7M94.4 448.7Q83.7 433.4 65.0 434.5M76.1 447.0Q84.8 453.0 94.4 448.7" fill="none" stroke="#8a62dc" stroke-width="0.5" stroke-opacity="0.4"/>
<path d="M169.9 386.1Q161.3 380.9 152.4 385.4M152.4 385.4Q143.2 382.8 136.1 389.3M152.4 385.4Q163.2 401.1 182.2 400.1M146.6 403.6Q154.6 396.1 152.4 385.4M179.2 417.0Q174.6 393.7 152.4 385.4M152.4 385.4Q146.8 404.9 160.6 419.9M144.5 420.5Q158.3 405.2 152.4 385.4M152.4 385.4Q129.6 396.8 127.4 422.2M171.7 434.0Q175.7 404.3 152.4 385.4M152.4 385.4Q130.5 407.1 137.5 437.1M154.7 438.9Q168.5 411.5 152.4 385.4M136.1 389.3Q153.9 397.2 169.9 386.1M169.9 386.1Q172.1 396.5 182.2 400.1M169.9 386.1Q153.3 388.3 146.6 403.6M164.1 402.9Q171.7 396.1 169.9 386.1M179.2 417.0Q183.2 398.9 169.9 386.1M160.6 419.9Q174.7 405.6 169.9 386.1M144.5 420.5Q166.8 410.4 169.9 386.1M127.4 422.2Q158.8 416.0 169.9 386.1M169.9 386.1Q157.4 410.6 171.7 434.0M137.5 437.1Q168.0 420.7 169.9 386.1M127.9 405.0Q136.4 399.4 136.1 389.3M136.1 389.3Q137.3 399.4 146.6 403.6M179.2 417.0Q165.4 391.1 136.1 389.3M136.1 389.3Q139.8 411.5 160.6 419.9M136.1 389.3Q131.6 407.3 144.5 420.5M136.1 389.3Q122.5 403.3 127.4 422.2M171.7 434.0Q166.4 401.7 136.1 389.3M136.1 389.3Q123.4 413.6 137.5 437.1M154.7 438.9Q159.3 408.9 136.1 389.3M182.2 400.1Q153.7 387.3 127.9 405.0M146.6 403.6Q165.4 411.8 182.2 400.1M182.2 400.1Q165.9 404.0 160.6 419.9M144.5 420.5Q169.1 420.9 182.2 400.1M182.2 400.1Q148.6 395.8 127.4 422.2M171.7 434.0Q186.4 420.0 182.2 400.1M182.2 400.1Q149.5 406.1 137.5 437.1M154.7 438.9Q179.3 427.2 182.2 400.1M127.9 405.0Q137.6 409.5 146.6 403.6M127.9 405.0Q150.2 425.4 179.2 417.0M160.6 419.9Q148.4 403.3 127.9 405.0M127.9 405.0Q122.8 413.5 127.4 422.2M127.9 405.0Q141.7 431.8 171.7 434.0M154.7 438.9Q150.8 414.4 127.9 405.0M179.2 417.0Q166.7 401.2 146.6 403.6M146.6 403.6Q149.0 415.7 160.6 419.9M146.6 403.6Q140.8 411.5 144.5 420.5M127.4 422.2Q142.2 418.3 146.6 403.6M146.6 403.6Q132.7 417.8 137.5 437.1M164.1 402.9Q157.6 410.4 160.6 419.9M144.5 420.5Q159.2 417.2 164.1 402.9M164.1 402.9Q140.3 402.3 127.4 422.2M137.5 437.1Q160.4 427.4 164.1 402.9M164.1 402.9Q149.3 418.3 154.7 438.9M179.2 417.0Q169.1 413.2 160.6 419.9M127.4 422.2Q154.8 434.1 179.2 417.0M171.7 434.0Q180.2 427.6 179.2 417.0M179.2 417.0Q152.7 415.4 137.5 437.1M179.2 417.0Q160.8 421.1 154.7 438.9M144.5 420.5Q152.7 424.7 160.6 419.9M171.7 434.0Q170.1 423.8 160.6 419.9M137.5 437.1Q153.9 435.0 160.6 419.9M127.4 422.2Q136.4 426.1 144.5 420.5M144.5 420.5Q154.3 434.9 171.7 434.0M144.5 420.5Q144.4 432.6 154.7 438.9M127.4 422.2Q136.4 438.2 154.7 438.9M171.7 434.0Q153.7 426.0 137.5 437.1M154.7 438.9Q164.6 441.2 171.7 434.0M182.2 400.1Q209.9 410.1 232.8 391.7" fill="none" stroke="#5294e4" stroke-width="0.5" stroke-opacity="0.4"/>
<path d="M299.0 341.7Q289.8 335.5 279.7 340.2M279.7 340.2Q291.5 356.5 311.6 355.0M279.7 340.2Q263.0 341.6 255.5 356.6M279.7 340.2Q271.1 347.3 272.7 358.4M279.7 340.2Q251.5 345.3 241.2 372.0M279.7 340.2Q260.8 351.7 260.8 373.8M279.7 340.2Q286.7 366.8 313.0 374.7M279.7 340.2Q275.9 364.7 294.8 380.8M250.6 388.7Q278.7 372.6 279.7 340.2M232.8 391.7Q270.7 379.1 279.7 340.2M263.4 399.7Q288.2 374.5 279.7 340.2M245.0 407.6Q281.2 383.6 279.7 340.2M261.3 417.6Q292.2 384.1 279.7 340.2M299.0 341.7Q301.6 351.9 311.6 355.0M289.2 363.6Q300.2 355.4 299.0 341.7M241.2 372.0Q278.6 373.0 299.0 341.7M276.6 376.4Q297.5 365.3 299.0 341.7M313.0 374.7Q315.2 354.3 299.0 341.7M299.0 341.7Q275.0 361.4 279.2 392.2M299.0 341.7Q265.0 360.7 263.4 399.7M299.0 341.7Q253.5 359.5 245.0 407.6M255.5 356.6Q284.0 371.5 311.6 355.0M272.7 358.4Q293.1 367.6 311.6 355.0M241.2 372.0Q281.2 383.2 311.6 355.0M311.6 355.0Q280.9 350.2 260.8 373.8M311.6 355.0Q306.8 365.2 313.0 374.7M311.6 355.0Q292.0 371.9 296.2 397.4M311.6 355.0Q263.6 362.7 245.0 407.6M280.0 411.5Q311.6 392.1 311.6 355.0M311.6 355.0Q268.9 372.2 261.3 417.6M272.7 358.4Q264.6 352.7 255.5 356.6M255.5 356.6Q270.4 369.5 289.2 363.6M260.8 373.8Q263.0 363.7 255.5 356.6M255.5 356.6Q260.5 372.4 276.6 376.4M294.8 380.8Q281.9 357.7 255.5 356.6M232.8 391.7Q254.0 380.5 255.5 356.6M279.2 392.2Q277.3 367.8 255.5 356.6M255.5 356.6Q264.4 388.4 296.2 397.4M245.0 407.6Q264.5 385.0 255.5 356.6M261.3 417.6Q275.5 385.5 255.5 356.6M241.2 372.0Q260.8 374.0 272.7 358.4M272.7 358.4Q262.4 362.8 260.8 373.8M276.6 376.4Q279.7 366.3 272.7 358.4M272.7 358.4Q288.3 377.8 313.0 374.7M272.7 358.4Q277.5 375.8 294.8 380.8M272.7 358.4Q253.2 367.4 250.6 388.7M272.7 358.4Q243.4 363.9 232.8 391.7M279.2 392.2Q285.4 373.5 272.7 358.4M272.7 358.4Q273.5 384.5 296.2 397.4M272.7 358.4Q256.5 376.4 263.4 399.7M272.7 358.4Q261.5 387.0 280.0 411.5M261.3 417.6Q283.6 391.2 272.7 358.4M260.8 373.8Q277.9 376.7 289.2 363.6M289.2 363.6Q279.3 366.5 276.6 376.4M289.2 363.6Q287.2 373.8 294.8 380.8M289.2 363.6Q262.9 365.3 250.6 388.7M289.2 363.6Q253.1 361.9 232.8 391.7M289.2 363.6Q276.2 375.1 279.2 392.2M263.4 399.7Q286.4 388.9 289.2 363.6M289.2 363.6Q254.8 373.2 245.0 407.6M289.2 363.6Q260.1 382.8 261.3 417.6M260.8 373.8Q251.5 367.4 241.2 372.0M241.2 372.0Q276.3 393.5 313.0 374.7M241.2 372.0Q265.5 391.4 294.8 380.8M241.2 372.0Q241.2 383.0 250.6 388.7M296.2 397.4Q275.8 369.3 241.2 372.0M263.4 399.7Q260.1 379.6 241.2 372.0M241.2 372.0Q238.5 400.4 261.3 417.6M260.8 373.8Q268.0 379.5 276.6 376.4M260.8 373.8Q286.6 388.9 313.0 374.7M294.8 380.8Q279.8 367.8 260.8 373.8M260.8 373.8Q251.5 378.4 250.6 388.7M260.8 373.8Q264.8 388.2 279.2 392.2M263.4 399.7Q269.4 386.0 260.8 373.8M260.8 373.8Q243.4 386.3 245.0 407.6M280.0 411.5Q281.0 387.3 260.8 373.8M261.3 417.6Q273.3 395.6 260.8 373.8M313.0 374.7Q294.3 365.4 276.6 376.4M276.6 376.4Q260.2 375.3 250.6 388.7M276.6 376.4Q250.4 371.8 232.8 391.7M245.0 407.6Q269.5 400.8 276.6 376.4M280.0 411.5Q288.1 393.0 276.6 376.4M261.3 417.6Q280.5 401.3 276.6 376.4M294.8 380.8Q305.6 382.8 313.0 374.7M313.0 374.7Q277.9 364.2 250.6 388.7M232.8 391.7Q277.7 405.7 313.0 374.7M313.0 374.7Q291.2 374.0 279.2 392.2M313.0 374.7Q269.8 372.1 245.0 407.6M280.0 411.5Q306.8 402.3 313.0 374.7M294.8 380.8Q260.7 368.9 232.8 391.7M296.2 397.4Q300.1 388.7 294.8 380.8M294.8 380.8Q273.8 381.5 263.4 399.7M294.8 380.8Q267.7 389.8 261.3 417.6M232.8 391.7Q242.5 395.2 250.6 388.7M279.2 392.2Q265.9 382.4 250.6 388.7M250.6 388.7Q271.0 405.8 296.2 397.4M250.6 388.7Q253.9 397.8 263.4 399.7M250.6 388.7Q242.5 396.6 245.0 407.6M280.0 411.5Q271.7 391.9 250.6 388.7M250.6 388.7Q247.9 406.1 261.3 417.6M296.2 397.4Q266.1 376.8 232.8 391.7M263.4 399.7Q250.3 387.1 232.8 391.7M232.8 391.7Q250.9 414.8 280.0 411.5M232.8 391.7Q239.8 412.6 261.3 417.6M296.2 397.4Q289.2 390.0 279.2 392.2M279.2 392.2Q269.2 391.5 263.4 399.7M245.0 407.6Q266.4 409.5 279.2 392.2M296.2 397.4Q267.7 388.2 245.0 407.6M296.2 397.4Q284.2 399.9 280.0 411.5M261.3 417.6Q284.4 417.3 296.2 397.4M245.0 407.6Q256.4 408.8 263.4 399.7M263.4 399.7Q257.3 408.1 261.3 417.6M245.0 407.6Q261.4 419.4 280.0 411.5M245.0 407.6Q250.3 417.2 261.3 417.6" fill="none" stroke="#e8503e" stroke-width="0.5" stroke-opacity="0.4"/>
<circle cx="141.8" cy="342.0" r="1.2" fill="#e2508c"/>
<circle cx="139.3" cy="358.2" r="1.2" fill="#e2508c"/>
<circle cx="59.2" cy="354.4" r="1.2" fill="#48d4dc"/>
<circle cx="75.0" cy="364.4" r="1.2" fill="#48d4dc"/>
<circle cx="116.6" cy="363.7" r="1.2" fill="#e2508c"/>
<circle cx="51.2" cy="372.4" r="1.2" fill="#48d4dc"/>
<circle cx="54.4" cy="390.6" r="1.2" fill="#48d4dc"/>
<circle cx="126.0" cy="268.7" r="1.5" fill="#4cb84c"/>
<circle cx="141.5" cy="282.4" r="1.5" fill="#4cb84c"/>
<circle cx="120.6" cy="290.4" r="1.5" fill="#4cb84c"/>
<circle cx="136.0" cy="302.4" r="1.5" fill="#4cb84c"/>
<circle cx="99.3" cy="327.5" r="1.5" fill="#4cb84c"/>
<circle cx="82.4" cy="338.0" r="1.5" fill="#4cb84c"/>
<circle cx="117.3" cy="338.7" r="1.5" fill="#4cb84c"/>
<circle cx="99.3" cy="349.5" r="1.5" fill="#4cb84c"/>
<circle cx="96.1" cy="373.0" r="1.5" fill="#e2508c"/>
<circle cx="74.1" cy="384.4" r="1.5" fill="#48d4dc"/>
<circle cx="106.0" cy="274.2" r="1.8" fill="#4cb84c"/>
<circle cx="101.0" cy="294.4" r="1.8" fill="#4cb84c"/>
<circle cx="92.4" cy="403.6" r="1.8" fill="#8a62dc"/>
<circle cx="76.1" cy="411.1" r="1.8" fill="#8a62dc"/>
<circle cx="60.0" cy="417.4" r="1.8" fill="#8a62dc"/>
<circle cx="85.0" cy="428.0" r="1.8" fill="#8a62dc"/>
<circle cx="65.0" cy="434.5" r="1.8" fill="#8a62dc"/>
<circle cx="106.0" cy="435.7" r="1.8" fill="#8a62dc"/>
<circle cx="76.1" cy="447.0" r="1.8" fill="#8a62dc"/>
<circle cx="102.3" cy="418.1" r="2.0" fill="#8a62dc"/>
<circle cx="94.4" cy="448.7" r="2.0" fill="#8a62dc"/>
<circle cx="279.7" cy="340.2" r="2.1" fill="#e8503e"/>
<circle cx="299.0" cy="341.7" r="2.1" fill="#e8503e"/>
<circle cx="311.6" cy="355.0" r="2.1" fill="#e8503e"/>
<circle cx="313.0" cy="374.7" r="2.1" fill="#e8503e"/>
<circle cx="115.3" cy="314.1" r="2.3" fill="#4cb84c"/>
<circle cx="232.8" cy="391.7" r="2.5" fill="#e8503e"/>
<circle cx="263.4" cy="399.7" r="2.5" fill="#e8503e"/>
<circle cx="245.0" cy="407.6" r="2.5" fill="#e8503e"/>
<circle cx="280.0" cy="411.5" r="2.5" fill="#e8503e"/>
<circle cx="261.3" cy="417.6" r="2.5" fill="#e8503e"/>
<circle cx="152.4" cy="385.4" r="2.6" fill="#5294e4"/>
<circle cx="169.9" cy="386.1" r="2.6" fill="#5294e4"/>
<circle cx="136.1" cy="389.3" r="2.6" fill="#5294e4"/>
<circle cx="182.2" cy="400.1" r="2.6" fill="#5294e4"/>
<circle cx="127.9" cy="405.0" r="2.6" fill="#5294e4"/>
<circle cx="146.6" cy="403.6" r="2.6" fill="#5294e4"/>
<circle cx="164.1" cy="402.9" r="2.6" fill="#5294e4"/>
<circle cx="179.2" cy="417.0" r="2.6" fill="#5294e4"/>
<circle cx="160.6" cy="419.9" r="2.6" fill="#5294e4"/>
<circle cx="144.5" cy="420.5" r="2.6" fill="#5294e4"/>
<circle cx="127.4" cy="422.2" r="2.6" fill="#5294e4"/>
<circle cx="171.7" cy="434.0" r="2.6" fill="#5294e4"/>
<circle cx="137.5" cy="437.1" r="2.6" fill="#5294e4"/>
<circle cx="154.7" cy="438.9" r="2.6" fill="#5294e4"/>
<circle cx="241.2" cy="372.0" r="2.8" fill="#e8503e"/>
<circle cx="250.6" cy="388.7" r="2.8" fill="#e8503e"/>
<circle cx="272.7" cy="358.4" r="3.9" fill="#e8503e"/>
<circle cx="289.2" cy="363.6" r="3.9" fill="#e8503e"/>
<circle cx="276.6" cy="376.4" r="3.9" fill="#e8503e"/>
<circle cx="294.8" cy="380.8" r="3.9" fill="#e8503e"/>
<circle cx="279.2" cy="392.2" r="3.9" fill="#e8503e"/>
<circle cx="296.2" cy="397.4" r="3.9" fill="#e8503e"/>
<circle cx="255.5" cy="356.6" r="4.4" fill="#e8503e"/>
<circle cx="260.8" cy="373.8" r="4.4" fill="#e8503e"/>
<circle cx="111.6" cy="386.9" r="5.5" fill="#e2508c"/>
<text x="126.0" y="268.9" font-size="3.31" text-anchor="middle" dominant-baseline="central" fill="#262626" fill-opacity="1.0" stroke="#262626" stroke-width="0.05" stroke-opacity="0.8" textLength="24.0" lengthAdjust="spacingAndGlyphs">anod, haritha, v</text>
<text x="106.0" y="274.4" font-size="3.76" text-anchor="middle" dominant-baseline="central" fill="#262626" fill-opacity="1.0" stroke="#262626" stroke-width="0.06" stroke-opacity="0.8" textLength="22.0" lengthAdjust="spacingAndGlyphs">gupta, vishal</text>
<text x="141.5" y="282.6" font-size="3.72" text-anchor="middle" dominant-baseline="central" fill="#262626" fill-opacity="1.0" stroke="#262626" stroke-width="0.06" stroke-opacity="0.8" textLength="19.0" lengthAdjust="spacingAndGlyphs">dey, surajit</text>
<text x="101.0" y="294.6" font-size="3.52" text-anchor="middle" dominant-baseline="central" fill="#262626" fill-opacity="1.0" stroke="#262626" stroke-width="0.05" stroke-opacity="0.8" textLength="25.0" lengthAdjust="spacingAndGlyphs">chandra, lallaul</text>
<text x="136.0" y="302.6" font-size="3.70" text-anchor="middle" dominant-baseline="central" fill="#262626" fill-opacity="1.0" stroke="#262626" stroke-width="0.06" stroke-opacity="0.8" textLength="42.0" lengthAdjust="spacingAndGlyphs">kesharwani, siddharth s.</text>
<text x="115.3" y="314.3" font-size="4.21" text-anchor="middle" dominant-baseline="central" fill="#262626" fill-opacity="1.0" stroke="#262626" stroke-width="0.06" stroke-opacity="0.8" textLength="27.0" lengthAdjust="spacingAndGlyphs">kumar, hitesh</text>
<text x="99.3" y="327.7" font-size="4.11" text-anchor="middle" dominant-baseline="central" fill="#262626" fill-opacity="1.0" stroke="#262626" stroke-width="0.06" stroke-opacity="0.8" textLength="20.0" lengthAdjust="spacingAndGlyphs">khan, ilyas</text>
<text x="82.4" y="338.2" font-size="3.46" text-anchor="middle" dominant-baseline="central" fill="#262626" fill-opacity="1.0" stroke="#262626" stroke-width="0.05" stroke-opacity="0.8" textLength="24.0" lengthAdjust="spacingAndGlyphs">mishra, gaurav</text>
<text x="117.3" y="338.9" font-size="3.76" text-anchor="middle" dominant-baseline="central" fill="#262626" fill-opacity="1.0" stroke="#262626" stroke-width="0.06" stroke-opacity="0.8" textLength="24.0" lengthAdjust="spacingAndGlyphs">gupta, umesh</text>
<text x="99.3" y="349.7" font-size="3.60" text-anchor="middle" dominant-baseline="central" fill="#262626" fill-opacity="1.0" stroke="#262626" stroke-width="0.05" stroke-opacity="0.8" textLength="28.0" lengthAdjust="spacingAndGlyphs">gothwal, avinash</text>
<text x="141.8" y="342.2" font-size="3.58" text-anchor="middle" dominant-baseline="central" fill="#262626" fill-opacity="1.0" stroke="#262626" stroke-width="0.05" stroke-opacity="0.8" textLength="18.0" lengthAdjust="spacingAndGlyphs">tagde, priti</text>
<text x="139.3" y="358.4" font-size="3.58" text-anchor="middle" dominant-baseline="central" fill="#262626" fill-opacity="1.0" stroke="#262626" stroke-width="0.05" stroke-opacity="0.8" textLength="28.0" lengthAdjust="spacingAndGlyphs">kulkarni, giriraj t.</text>
<text x="59.2" y="354.6" font-size="3.59" text-anchor="middle" dominant-baseline="central" fill="#262626" fill-opacity="1.0" stroke="#262626" stroke-width="0.05" stroke-opacity="0.8" textLength="21.0" lengthAdjust="spacingAndGlyphs">kali, manikdi</text>
<text x="75.0" y="364.6" font-size="3.59" text-anchor="middle" dominant-baseline="central" fill="#262626" fill-opacity="1.0" stroke="#262626" stroke-width="0.05" stroke-opacity="0.8" textLength="26.0" lengthAdjust="spacingAndGlyphs">alexander, amit</text>
<text x="116.6" y="363.9" font-size="3.60" text-anchor="middle" dominant-baseline="central" fill="#262626" fill-opacity="1.0" stroke="#262626" stroke-width="0.05" stroke-opacity="0.8" textLength="24.0" lengthAdjust="spacingAndGlyphs">fatima, mahak</text>
<text x="51.2" y="372.6" font-size="3.92" text-anchor="middle" dominant-baseline="central" fill="#262626" fill-opacity="1.0" stroke="#262626" stroke-width="0.06" stroke-opacity="0.8" textLength="34.0" lengthAdjust="spacingAndGlyphs">hajmaly, siddharth</text>
<text x="96.1" y="373.2" font-size="3.64" text-anchor="middle" dominant-baseline="central" fill="#262626" fill-opacity="1.0" stroke="#262626" stroke-width="0.05" stroke-opacity="0.8" textLength="49.0" lengthAdjust="spacingAndGlyphs">abourehab, mohammed a. s.</text>
<text x="111.6" y="387.1" font-size="5.98" text-anchor="middle" dominant-baseline="central" fill="#262626" fill-opacity="1.0" stroke="#262626" stroke-width="0.09" stroke-opacity="0.8" textLength="60.0" lengthAdjust="spacingAndGlyphs">kesharwani, prashant</text>
<text x="54.4" y="390.8" font-size="3.70" text-anchor="middle" dominant-baseline="central" fill="#262626" fill-opacity="1.0" stroke="#262626" stroke-width="0.06" stroke-opacity="0.8" textLength="33.0" lengthAdjust="spacingAndGlyphs">dubey, sunil kumar</text>
<text x="92.4" y="403.8" font-size="4.06" text-anchor="middle" dominant-baseline="central" fill="#262626" fill-opacity="1.0" stroke="#262626" stroke-width="0.06" stroke-opacity="0.8" textLength="20.0" lengthAdjust="spacingAndGlyphs">jain, pallav</text>
<text x="76.1" y="411.3" font-size="3.96" text-anchor="middle" dominant-baseline="central" fill="#262626" fill-opacity="1.0" stroke="#262626" stroke-width="0.06" stroke-opacity="0.8" textLength="42.0" lengthAdjust="spacingAndGlyphs">shivhare, uma shankar</text>
<text x="60.0" y="417.6" font-size="4.04" text-anchor="middle" dominant-baseline="central" fill="#262626" fill-opacity="1.0" stroke="#262626" stroke-width="0.06" stroke-opacity="0.8" textLength="32.0" lengthAdjust="spacingAndGlyphs">singh, bhupinder</text>
<text x="85.0" y="428.2" font-size="4.00" text-anchor="middle" dominant-baseline="central" fill="#262626" fill-opacity="1.0" stroke="#262626" stroke-width="0.06" stroke-opacity="0.8" textLength="36.0" lengthAdjust="spacingAndGlyphs">katare, om prakash</text>
<text x="65.0" y="434.7" font-size="3.94" text-anchor="middle" dominant-baseline="central" fill="#262626" fill-opacity="1.0" stroke="#262626" stroke-width="0.06" stroke-opacity="0.8" textLength="29.0" lengthAdjust="spacingAndGlyphs">kushwah, varun</text>
<text x="106.0" y="435.9" font-size="4.16" text-anchor="middle" dominant-baseline="central" fill="#262626" fill-opacity="1.0" stroke="#262626" stroke-width="0.06" stroke-opacity="0.8" textLength="27.0" lengthAdjust="spacingAndGlyphs">ghoshal, gargi</text>
<text x="76.1" y="447.2" font-size="3.96" text-anchor="middle" dominant-baseline="central" fill="#262626" fill-opacity="1.0" stroke="#262626" stroke-width="0.06" stroke-opacity="0.8" textLength="26.0" lengthAdjust="spacingAndGlyphs">garg, neeraj k.</text>
<text x="169.9" y="386.3" font-size="4.82" text-anchor="middle" dominant-baseline="central" fill="#262626" fill-opacity="1.0" stroke="#262626" stroke-width="0.07" stroke-opacity="0.8" textLength="32.0" lengthAdjust="spacingAndGlyphs">aghabasi, kian</text>
<text x="182.2" y="400.3" font-size="4.44" text-anchor="middle" dominant-baseline="central" fill="#262626" fill-opacity="1.0" stroke="#262626" stroke-width="0.07" stroke-opacity="0.8" textLength="22.0" lengthAdjust="spacingAndGlyphs">zamani, ali</text>
<text x="146.6" y="403.8" font-size="4.80" text-anchor="middle" dominant-baseline="central" fill="#262626" fill-opacity="1.0" stroke="#262626" stroke-width="0.07" stroke-opacity="0.8" textLength="36.0" lengthAdjust="spacingAndGlyphs">zuedi, fereshteh</text>
<text x="179.2" y="417.2" font-size="4.47" text-anchor="middle" dominant-baseline="central" fill="#262626" fill-opacity="1.0" stroke="#262626" stroke-width="0.07" stroke-opacity="0.8" textLength="43.0" lengthAdjust="spacingAndGlyphs">afshar, abbas aghaei</text>
<text x="127.4" y="422.4" font-size="4.34" text-anchor="middle" dominant-baseline="central" fill="#262626" fill-opacity="1.0" stroke="#262626" stroke-width="0.07" stroke-opacity="0.8" textLength="47.0" lengthAdjust="spacingAndGlyphs">mohammadnejad, reza</text>
<text x="154.7" y="439.1" font-size="4.12" text-anchor="middle" dominant-baseline="central" fill="#262626" fill-opacity="1.0" stroke="#262626" stroke-width="0.06" stroke-opacity="0.8" textLength="26.0" lengthAdjust="spacingAndGlyphs">fatemi, ensan</text>
<text x="299.0" y="341.9" font-size="4.13" text-anchor="middle" dominant-baseline="central" fill="#262626" fill-opacity="1.0" stroke="#262626" stroke-width="0.06" stroke-opacity="0.8" textLength="23.0" lengthAdjust="spacingAndGlyphs">abbasi, reza</text>
<text x="311.6" y="355.2" font-size="4.11" text-anchor="middle" dominant-baseline="central" fill="#262626" fill-opacity="1.0" stroke="#262626" stroke-width="0.06" stroke-opacity="0.8" textLength="37.0" lengthAdjust="spacingAndGlyphs">hocham, shayestah</text>
<text x="255.5" y="356.8" font-size="4.95" text-anchor="middle" dominant-baseline="central" fill="#262626" fill-opacity="1.0" stroke="#262626" stroke-width="0.07" stroke-opacity="0.8" textLength="44.6" lengthAdjust="spacingAndGlyphs">davarani, sohrabeh</text>
<text x="289.2" y="363.8" font-size="5.25" text-anchor="middle" dominant-baseline="central" fill="#262626" fill-opacity="1.0" stroke="#262626" stroke-width="0.08" stroke-opacity="0.8" textLength="44.0" lengthAdjust="spacingAndGlyphs">rezanejam, hamid</text>
<text x="260.8" y="374.0" font-size="5.25" text-anchor="middle" dominant-baseline="central" fill="#262626" fill-opacity="1.0" stroke="#262626" stroke-width="0.08" stroke-opacity="0.8" textLength="37.6" lengthAdjust="spacingAndGlyphs">abtari, fatemeh</text>
<text x="313.0" y="374.9" font-size="4.34" text-anchor="middle" dominant-baseline="central" fill="#262626" fill-opacity="1.0" stroke="#262626" stroke-width="0.07" stroke-opacity="0.8" textLength="38.0" lengthAdjust="spacingAndGlyphs">baghdadi, yasamin</text>
<text x="294.8" y="381.0" font-size="4.82" text-anchor="middle" dominant-baseline="central" fill="#262626" fill-opacity="1.0" stroke="#262626" stroke-width="0.07" stroke-opacity="0.8" textLength="36.5" lengthAdjust="spacingAndGlyphs">mohammadi, ali</text>
<text x="232.8" y="391.9" font-size="4.45" text-anchor="middle" dominant-baseline="central" fill="#262626" fill-opacity="1.0" stroke="#262626" stroke-width="0.07" stroke-opacity="0.8" textLength="34.0" lengthAdjust="spacingAndGlyphs">ertas, yavuz nuri</text>
<text x="279.2" y="392.4" font-size="4.95" text-anchor="middle" dominant-baseline="central" fill="#262626" fill-opacity="1.0" stroke="#262626" stroke-width="0.07" stroke-opacity="0.8" textLength="35.3" lengthAdjust="spacingAndGlyphs">bambay, murat</text>
<text x="263.4" y="399.9" font-size="4.42" text-anchor="middle" dominant-baseline="central" fill="#262626" fill-opacity="1.0" stroke="#262626" stroke-width="0.07" stroke-opacity="0.8" textLength="39.6" lengthAdjust="spacingAndGlyphs">mousazadeh, saeid</text>
<text x="245.0" y="407.8" font-size="4.53" text-anchor="middle" dominant-baseline="central" fill="#262626" fill-opacity="1.0" stroke="#262626" stroke-width="0.07" stroke-opacity="0.8" textLength="24.8" lengthAdjust="spacingAndGlyphs">nasehi, leila</text>
<text x="280.0" y="411.7" font-size="4.13" text-anchor="middle" dominant-baseline="central" fill="#262626" fill-opacity="1.0" stroke="#262626" stroke-width="0.06" stroke-opacity="0.8" textLength="43.0" lengthAdjust="spacingAndGlyphs">salehbabaei, marziyeh</text>
<text x="261.3" y="417.8" font-size="4.38" text-anchor="middle" dominant-baseline="central" fill="#262626" fill-opacity="1.0" stroke="#262626" stroke-width="0.07" stroke-opacity="0.8" textLength="40.3" lengthAdjust="spacingAndGlyphs">rashidzadeh, hamid</text>
<rect x="6.6" y="448.3" width="44.0" height="15.3" rx="3.2" fill="#fff" stroke="#e6e6e6" stroke-width="0.9"/>
<path d="M9.20 460.60L12.37 451.00L14.13 451.00L18.00 459.16L16.06 460.31L13.60 456.28L11.84 460.60Z" fill="#3cc8b4"/>
<ellipse cx="10.96" cy="458.87" rx="1.50" ry="1.44" fill="#9ad840" fill-opacity="0.85"/>
<ellipse cx="16.42" cy="459.16" rx="1.23" ry="0.96" fill="#7ad870" fill-opacity="0.7"/>
<circle cx="13.16" cy="453.88" r="1.32" fill="#e0c040"/>
<circle cx="13.16" cy="453.88" r="0.70" fill="#d04030"/>
<text x="18.8" y="458.0" font-size="5.73" fill="#777" textLength="27.2" lengthAdjust="spacingAndGlyphs">VOSviewer</text>
<text transform="translate(16.10 246.52) scale(0.747 1)" font-size="17.80" fill="#111" stroke="#111" stroke-width="0.45">C</text>
<path d="M412.6 260.6C490.3 260.6 445.9 313.8 523.6 313.8L523.6 327.7C445.9 327.7 490.3 274.5 412.6 274.5Z" fill="#d6abd0" fill-opacity="0.75"/>
<path d="M412.6 283.0C490.3 283.0 445.9 365.0 523.6 365.0L523.6 378.9C445.9 378.9 490.3 296.9 412.6 296.9Z" fill="#d0a3d0" fill-opacity="0.75"/>
<path d="M412.6 305.5C490.3 305.5 445.9 378.6 523.6 378.6L523.6 392.5C445.9 392.5 490.3 319.4 412.6 319.4Z" fill="#cba0d6" fill-opacity="0.75"/>
<path d="M412.6 328.0C490.3 328.0 445.9 277.2 523.6 277.2L523.6 291.1C445.9 291.1 490.3 341.9 412.6 341.9Z" fill="#c0a6d6" fill-opacity="0.75"/>
<path d="M412.6 350.7C490.3 350.7 445.9 422.0 523.6 422.0L523.6 435.9C445.9 435.9 490.3 364.6 412.6 364.6Z" fill="#c6bbe0" fill-opacity="0.75"/>
<path d="M412.6 373.0C490.3 373.0 445.9 291.1 523.6 291.1L523.6 305.0C445.9 305.0 490.3 386.9 412.6 386.9Z" fill="#c6c6e8" fill-opacity="0.75"/>
<path d="M412.6 394.3C490.3 394.3 445.9 327.7 523.6 327.7L523.6 341.6C445.9 341.6 490.3 408.2 412.6 408.2Z" fill="#bbd6e3" fill-opacity="0.75"/>
<path d="M412.6 415.0C490.3 415.0 445.9 341.6 523.6 341.6L523.6 355.5C445.9 355.5 490.3 428.9 412.6 428.9Z" fill="#70bbb0" fill-opacity="0.75"/>
<path d="M412.6 438.5C490.3 438.5 445.9 400.8 523.6 400.8L523.6 414.7C445.9 414.7 490.3 452.4 412.6 452.4Z" fill="#6bb6a6" fill-opacity="0.75"/>
<path d="M528.1 277.2C605.9 277.2 561.4 310.2 639.2 310.2L639.2 324.1C561.4 324.1 605.9 291.1 528.1 291.1Z" fill="#6bae98" fill-opacity="0.75"/>
<path d="M528.1 291.1C605.9 291.1 561.4 412.4 639.2 412.4L639.2 426.3C561.4 426.3 605.9 305.0 528.1 305.0Z" fill="#6bae98" fill-opacity="0.75"/>
<path d="M528.1 313.8C605.9 313.8 561.4 287.1 639.2 287.1L639.2 301.0C561.4 301.0 605.9 327.7 528.1 327.7Z" fill="#66a896" fill-opacity="0.75"/>
<path d="M528.1 327.7C605.9 327.7 561.4 369.0 639.2 369.0L639.2 382.9C561.4 382.9 605.9 341.6 528.1 341.6Z" fill="#66a896" fill-opacity="0.75"/>
<path d="M528.1 341.6C605.9 341.6 561.4 435.4 639.2 435.4L639.2 449.3C561.4 449.3 605.9 355.5 528.1 355.5Z" fill="#68b09e" fill-opacity="0.75"/>
<path d="M528.1 365.0C605.9 365.0 561.4 323.6 639.2 323.6L639.2 337.5C561.4 337.5 605.9 378.9 528.1 378.9Z" fill="#7bae8b" fill-opacity="0.75"/>
<path d="M528.1 378.6C605.9 378.6 561.4 391.0 639.2 391.0L639.2 404.9C561.4 404.9 605.9 392.5 528.1 392.5Z" fill="#7bae8b" fill-opacity="0.75"/>
<path d="M528.1 400.8C605.9 400.8 561.4 264.6 639.2 264.6L639.2 278.5C561.4 278.5 605.9 414.7 528.1 414.7Z" fill="#93965e" fill-opacity="0.75"/>
<path d="M528.1 422.0C605.9 422.0 561.4 346.0 639.2 346.0L639.2 359.9C561.4 359.9 605.9 435.9 528.1 435.9Z" fill="#deaebe" fill-opacity="0.75"/>
<rect x="408.2" y="260.6" width="4.4" height="19.5" fill="#c890c4"/>
<rect x="408.2" y="283.0" width="4.4" height="18.1" fill="#c484cc"/>
<rect x="408.2" y="305.5" width="4.4" height="17.2" fill="#b48ccc"/>
<rect x="408.2" y="328.0" width="4.4" height="14.0" fill="#a890cc"/>
<rect x="408.2" y="350.7" width="4.4" height="13.6" fill="#a898d8"/>
<rect x="408.2" y="373.0" width="4.4" height="13.7" fill="#a8a8dc"/>
<rect x="408.2" y="394.3" width="4.4" height="14.0" fill="#a4c4e0"/>
<rect x="408.2" y="415.0" width="4.4" height="16.5" fill="#3aa090"/>
<rect x="408.2" y="438.5" width="4.4" height="15.5" fill="#3a9a80"/>
<rect x="523.6" y="277.2" width="4.5" height="27.8" fill="#3a8a70"/>
<rect x="523.6" y="313.8" width="4.5" height="41.8" fill="#3a8a68"/>
<rect x="523.6" y="365.0" width="4.5" height="27.2" fill="#3a8a58"/>
<rect x="523.6" y="400.8" width="4.5" height="14.1" fill="#6a6a30"/>
<rect x="523.6" y="422.0" width="4.5" height="15.5" fill="#d898a8"/>
<rect x="639.2" y="264.6" width="4.6" height="14.4" fill="#2f8a6a"/>
<rect x="639.2" y="287.1" width="4.6" height="15.3" fill="#3a8a48"/>
<rect x="639.2" y="310.2" width="4.6" height="26.9" fill="#4a8a3a"/>
<rect x="639.2" y="346.0" width="4.6" height="14.1" fill="#6a5a30"/>
<rect x="639.2" y="369.0" width="4.6" height="13.6" fill="#7a5a38"/>
<rect x="639.2" y="391.0" width="4.6" height="13.7" fill="#8a4a38"/>
<rect x="639.2" y="412.4" width="4.6" height="15.3" fill="#9a5048"/>
<rect x="639.2" y="435.4" width="4.6" height="14.5" fill="#c07878"/>
<text x="410.3" y="276.3" font-size="8.7" text-anchor="middle" dominant-baseline="central" fill="#1a1a1a" stroke="#1a1a1a" stroke-width="0.15">Zhang Y</text>
<text x="410.3" y="296.5" font-size="8.7" text-anchor="middle" dominant-baseline="central" fill="#1a1a1a" stroke="#1a1a1a" stroke-width="0.15">Wang Y</text>
<text x="410.3" y="316.3" font-size="8.7" text-anchor="middle" dominant-baseline="central" fill="#1a1a1a" stroke="#1a1a1a" stroke-width="0.15">Liu Y</text>
<text x="410.3" y="337.0" font-size="8.7" text-anchor="middle" dominant-baseline="central" fill="#1a1a1a" stroke="#1a1a1a" stroke-width="0.15">LI Y</text>
<text x="410.3" y="357.8" font-size="8.7" text-anchor="middle" dominant-baseline="central" fill="#1a1a1a" stroke="#1a1a1a" stroke-width="0.15">Kesharwani P</text>
<text x="410.3" y="378.0" font-size="8.7" text-anchor="middle" dominant-baseline="central" fill="#1a1a1a" stroke="#1a1a1a" stroke-width="0.15">Chonili M</text>
<text x="410.3" y="398.4" font-size="8.7" text-anchor="middle" dominant-baseline="central" fill="#1a1a1a" stroke="#1a1a1a" stroke-width="0.15">Chen C</text>
<text x="410.3" y="418.8" font-size="8.7" text-anchor="middle" dominant-baseline="central" fill="#1a1a1a" stroke="#1a1a1a" stroke-width="0.15">Abrahamse H</text>
<text x="410.3" y="439.0" font-size="8.7" text-anchor="middle" dominant-baseline="central" fill="#1a1a1a" stroke="#1a1a1a" stroke-width="0.15">Abourehab MAS</text>
<text x="526.0" y="295.7" font-size="8.7" text-anchor="middle" dominant-baseline="central" fill="#1a1a1a" stroke="#1a1a1a" stroke-width="0.15">7</text>
<text x="526.0" y="336.8" font-size="8.7" text-anchor="middle" dominant-baseline="central" fill="#1a1a1a" stroke="#1a1a1a" stroke-width="0.15">6</text>
<text x="526.0" y="378.2" font-size="8.7" text-anchor="middle" dominant-baseline="central" fill="#1a1a1a" stroke="#1a1a1a" stroke-width="0.15">5</text>
<text x="526.0" y="406.3" font-size="8.7" text-anchor="middle" dominant-baseline="central" fill="#1a1a1a" stroke="#1a1a1a" stroke-width="0.15">4</text>
<text x="526.0" y="426.0" font-size="8.7" text-anchor="middle" dominant-baseline="central" fill="#1a1a1a" stroke="#1a1a1a" stroke-width="0.15">11</text>
<text x="641.4" y="279.3" font-size="8.7" text-anchor="middle" dominant-baseline="central" fill="#1a1a1a" stroke="#1a1a1a" stroke-width="0.15">50</text>
<text x="641.4" y="299.6" font-size="8.7" text-anchor="middle" dominant-baseline="central" fill="#1a1a1a" stroke="#1a1a1a" stroke-width="0.15">47</text>
<text x="641.4" y="326.5" font-size="8.7" text-anchor="middle" dominant-baseline="central" fill="#1a1a1a" stroke="#1a1a1a" stroke-width="0.15">40</text>
<text x="641.4" y="354.5" font-size="8.7" text-anchor="middle" dominant-baseline="central" fill="#1a1a1a" stroke="#1a1a1a" stroke-width="0.15">276</text>
<text x="641.4" y="375.0" font-size="8.7" text-anchor="middle" dominant-baseline="central" fill="#1a1a1a" stroke="#1a1a1a" stroke-width="0.15">231</text>
<text x="641.4" y="395.4" font-size="8.7" text-anchor="middle" dominant-baseline="central" fill="#1a1a1a" stroke="#1a1a1a" stroke-width="0.15">23</text>
<text x="641.4" y="415.8" font-size="8.7" text-anchor="middle" dominant-baseline="central" fill="#1a1a1a" stroke="#1a1a1a" stroke-width="0.15">216</text>
<text x="641.4" y="436.2" font-size="8.7" text-anchor="middle" dominant-baseline="central" fill="#1a1a1a" stroke="#1a1a1a" stroke-width="0.15">205</text>
<text x="399.3" y="476.6" font-size="11.3" fill="#1a1a1a" stroke="#1a1a1a" stroke-width="0.45" textLength="38.3">Authors</text>
<text x="506.6" y="478.4" font-size="10.9" fill="#1a1a1a" stroke="#1a1a1a" stroke-width="0.45" textLength="33.8">Counts</text>
<text x="613.4" y="477.6" font-size="11.2" fill="#1a1a1a" stroke="#1a1a1a" stroke-width="0.45" textLength="69">Total citations</text>
<text transform="translate(365.70 243.70) scale(0.830 1)" font-size="17.01" fill="#111" stroke="#111" stroke-width="0.45">D</text>
<path d="M154.8 584.1Q160.5 591.3 169.6 590.3M155.0 583.9Q160.5 591.2 169.6 590.3M172.5 627.5Q163.6 632.8 163.5 643.2M163.5 643.2Q137.2 641.1 121.6 662.4M172.5 627.5Q228.5 668.8 293.0 642.7M184.5 573.2Q154.4 602.3 163.5 643.2M169.6 590.3Q151.7 615.0 163.5 643.2M150.5 600.7Q135.0 620.2 143.5 643.7M150.5 600.7Q157.5 593.6 155.0 583.9M163.5 643.2Q175.9 611.2 155.0 583.9M102.3 649.2Q146.9 631.3 155.0 583.9M154.8 584.1Q148.0 591.2 150.5 600.7M150.5 600.7Q163.0 600.8 169.6 590.3M150.5 600.7Q139.0 602.8 134.8 613.7M155.0 583.9Q132.5 610.6 143.5 643.7M134.0 630.4Q145.2 645.1 163.5 643.2M155.0 583.9Q115.7 590.9 101.1 628.0M163.5 643.2Q176.0 596.0 142.3 560.6" fill="none" stroke="#9a5ce4" stroke-width="0.5" stroke-opacity="0.35"/>
<path d="M146.0 541.2Q158.1 557.1 178.0 555.0M164.9 569.9Q175.6 566.1 178.0 555.0M203.3 560.0Q206.4 594.9 237.7 610.5M239.1 558.7Q220.8 549.3 203.3 560.0M239.1 558.7Q229.4 555.4 221.5 562.0M190.6 542.7Q192.1 554.9 203.3 560.0M228.5 544.1Q211.4 545.0 203.3 560.0M178.0 555.0Q187.7 552.4 190.6 542.7M102.3 649.2Q176.3 620.7 190.6 542.7M221.5 562.0Q221.0 549.8 210.3 543.8M246.7 593.1Q234.3 564.4 203.3 560.0M164.8 570.0Q203.9 574.9 228.5 544.1M184.5 573.2Q196.1 559.7 190.6 542.7M197.6 616.6Q214.8 577.7 190.6 542.7M184.5 573.2Q197.6 571.9 203.3 560.0M253.7 616.6Q231.3 575.5 184.5 573.2M184.5 573.2Q166.6 570.3 154.8 584.1M221.5 562.0Q226.8 541.1 211.7 525.6M184.5 573.2Q214.6 571.0 228.5 544.1M103.6 667.4Q183.5 641.6 203.3 560.0M164.8 570.0Q185.3 563.6 190.6 542.7M164.8 570.0Q195.4 581.9 221.5 562.0M228.5 544.1Q200.2 535.4 178.0 555.0M164.9 569.9Q185.4 563.5 190.6 542.7M221.5 562.0Q199.9 557.2 184.5 573.2M228.5 544.1Q219.5 538.9 210.3 543.8" fill="none" stroke="#e8503c" stroke-width="0.5" stroke-opacity="0.35"/>
<path d="M191.5 634.8Q214.1 642.8 232.7 627.8M253.7 616.6Q247.4 609.1 237.7 610.5M237.7 610.5Q217.9 612.1 208.9 629.8M220.0 645.5Q238.7 633.0 237.7 610.5M250.9 635.7Q251.4 619.4 237.7 610.5M253.7 616.6Q240.1 616.3 232.7 627.8M253.7 616.6Q247.0 625.4 250.9 635.7M250.9 635.7Q244.0 626.7 232.7 627.8" fill="none" stroke="#e070d4" stroke-width="0.5" stroke-opacity="0.35"/>
<path d="M83.6 615.0Q78.3 623.9 83.1 633.0M117.8 621.2Q107.5 619.9 101.1 628.0M227.0 595.1Q165.1 577.6 117.8 621.2M197.6 616.6Q171.7 589.1 134.8 596.8M116.0 598.7Q101.5 589.5 86.1 597.0M172.5 627.5Q146.9 609.0 117.8 621.2M83.6 615.0Q88.7 626.4 101.1 628.0M134.8 596.8Q104.1 591.6 83.6 615.0M134.8 596.8Q126.0 622.7 143.5 643.7M101.8 608.2Q72.0 602.1 51.2 624.4M116.0 598.7Q110.6 610.5 117.8 621.2M134.0 630.4Q128.5 621.3 117.8 621.2M80.4 577.4Q71.5 597.1 83.6 615.0M86.1 597.0Q100.7 627.1 134.0 630.4M101.1 628.0Q90.7 625.5 83.1 633.0M83.6 615.0Q99.0 627.7 117.8 621.2M50.7 591.6Q66.9 604.2 86.1 597.0M83.1 633.0Q99.4 625.8 101.8 608.2M117.8 621.2Q123.2 586.1 96.1 563.1" fill="none" stroke="#6096e0" stroke-width="0.5" stroke-opacity="0.35"/>
<path d="M50.7 591.6Q53.6 603.7 65.4 607.5M50.7 591.6Q39.1 590.3 32.0 599.5M80.4 577.4Q64.5 588.2 65.4 607.5M146.0 541.2Q77.9 547.1 47.4 608.2M32.5 618.2Q132.7 624.7 190.6 542.7M32.5 618.2Q49.0 610.0 50.7 591.6M50.7 591.6Q41.8 608.1 51.2 624.4M32.0 599.5Q46.5 612.9 65.4 607.5M32.0 599.5Q37.3 608.2 47.4 608.2M32.0 599.5Q27.0 609.0 32.5 618.2M47.4 608.2Q56.6 612.9 65.4 607.5M32.5 618.2Q51.9 622.1 65.4 607.5M65.4 607.5Q53.6 612.0 51.2 624.4M47.4 608.2Q37.2 609.0 32.5 618.2" fill="none" stroke="#5cd890" stroke-width="0.5" stroke-opacity="0.35"/>
<path d="M217.8 580.2Q208.2 576.3 199.9 582.5M181.0 611.5Q144.3 639.9 149.3 686.1M185.9 595.8Q194.6 603.8 206.0 600.6M185.9 595.8Q166.8 588.3 150.5 600.7M155.0 583.9Q167.1 598.5 185.9 595.8M253.7 616.6Q225.6 587.2 185.9 595.8M164.3 674.4Q197.1 641.1 185.9 595.8M217.8 580.2Q219.3 600.9 237.7 610.5M217.8 580.2Q197.5 579.1 185.9 595.8M216.7 509.6Q170.3 550.6 181.0 611.5M185.9 595.8Q150.1 577.7 116.0 598.7M211.7 525.6Q179.1 553.5 185.9 595.8M185.9 595.8Q196.6 593.1 199.9 582.5M217.8 580.2Q225.6 608.5 253.7 616.6M217.8 580.2Q224.2 559.9 210.3 543.8M181.0 611.5Q187.8 605.0 185.9 595.8M211.7 525.6Q218.7 519.0 216.7 509.6M211.7 525.6Q205.9 534.3 210.3 543.8" fill="none" stroke="#98dc44" stroke-width="0.5" stroke-opacity="0.35"/>
<path d="M236.9 577.7Q237.5 588.1 246.7 593.1M246.7 593.1Q255.0 587.1 254.3 576.9M263.0 597.5Q245.7 586.2 227.0 595.1M134.8 613.7Q174.1 627.1 206.0 600.6M121.0 642.4Q135.9 631.9 134.8 613.7M236.9 577.7Q209.5 606.9 220.0 645.5M134.8 596.8Q130.1 605.2 134.8 613.7M134.0 630.4Q162.8 634.1 181.0 611.5M143.5 643.7Q170.0 652.7 191.5 634.8" fill="none" stroke="#6262e4" stroke-width="0.5" stroke-opacity="0.35"/>
<path d="M208.9 629.8Q167.8 631.0 147.3 666.6M193.4 676.3Q214.2 657.4 208.9 629.8M197.6 616.6Q208.5 620.3 217.3 613.0M208.9 629.8Q227.7 617.5 227.0 595.1M164.9 569.9Q135.3 622.0 164.3 674.4M206.0 600.6Q199.3 616.0 208.9 629.8M164.3 674.4Q158.0 665.7 147.3 666.6M147.3 666.6Q142.8 676.9 149.3 686.1M217.3 613.0Q167.3 620.2 147.3 666.6M197.6 616.6Q158.4 627.5 147.3 666.6M149.3 686.1Q160.1 684.5 164.3 674.4M197.6 616.6Q164.8 636.2 164.3 674.4M208.9 629.8Q174.1 639.6 164.3 674.4M164.3 674.4Q189.0 662.2 191.5 634.8M149.3 686.1Q203.8 668.6 217.3 613.0M149.3 686.1Q196.0 685.6 220.0 645.5M149.3 686.1Q174.1 693.5 193.4 676.3M193.4 676.3Q220.9 642.0 206.0 600.6M217.3 613.0Q208.4 619.0 208.9 629.8M220.0 645.5Q227.8 628.5 217.3 613.0M193.4 676.3Q212.2 647.6 197.6 616.6M191.5 634.8Q201.6 637.2 208.9 629.8M191.5 634.8Q202.8 648.1 220.0 645.5M193.4 676.3Q215.3 668.3 220.0 645.5" fill="none" stroke="#f0a040" stroke-width="0.5" stroke-opacity="0.35"/>
<path d="M293.0 623.6Q298.4 633.7 309.8 634.3M328.0 634.8Q249.1 617.9 193.4 676.3M309.8 634.3Q299.0 633.8 293.0 642.7M280.3 608.2Q287.7 629.5 309.8 634.3M280.3 588.7Q274.8 598.5 280.3 608.2M293.0 642.7Q301.8 612.1 280.3 588.7M280.3 608.2Q274.6 598.0 263.0 597.5M263.0 597.5Q270.7 618.9 293.0 623.6M309.8 634.3Q296.7 602.8 263.0 597.5M263.0 597.5Q285.1 634.4 328.0 634.8M263.0 597.5Q265.3 628.5 293.0 642.7M293.0 623.6Q287.7 633.2 293.0 642.7M293.0 642.7Q312.7 648.5 328.0 634.8" fill="none" stroke="#40c8d8" stroke-width="0.5" stroke-opacity="0.35"/>
<path d="M121.0 642.4Q91.1 613.9 51.2 624.4" fill="none" stroke="#8aa0c8" stroke-width="0.5" stroke-opacity="0.35"/>
<path d="M123.0 558.1Q93.1 609.9 121.6 662.4M123.0 558.1Q114.6 568.0 118.6 580.4M142.3 560.6Q149.6 551.9 146.0 541.2M118.6 580.4Q108.0 575.8 98.6 582.4M118.6 580.4Q143.3 568.5 146.0 541.2M101.1 628.0Q123.2 609.1 118.6 580.4M146.0 524.2Q116.6 544.6 118.6 580.4M146.0 541.2Q150.8 532.7 146.0 524.2M142.3 560.6Q124.9 563.9 118.6 580.4M123.0 558.1Q132.0 564.8 142.3 560.6M96.1 563.1Q102.5 578.0 118.6 580.4M118.6 580.4Q119.0 556.2 98.6 543.2M82.4 550.0Q92.0 575.3 118.6 580.4" fill="none" stroke="#44b044" stroke-width="0.5" stroke-opacity="0.35"/>
<circle cx="146.0" cy="524.2" r="0.8" fill="#44b044"/>
<circle cx="98.6" cy="543.2" r="0.8" fill="#b0b0c8"/>
<circle cx="82.4" cy="550.0" r="0.8" fill="#b0b0c8"/>
<circle cx="149.3" cy="686.1" r="0.8" fill="#f0a040"/>
<circle cx="216.7" cy="509.6" r="0.8" fill="#98dc44"/>
<circle cx="328.0" cy="634.8" r="0.8" fill="#40c8d8"/>
<circle cx="220.0" cy="645.5" r="0.8" fill="#f0a040"/>
<circle cx="213.9" cy="667.4" r="0.8" fill="#b0b0c8"/>
<circle cx="193.4" cy="676.3" r="0.8" fill="#f0a040"/>
<circle cx="146.0" cy="541.2" r="1.0" fill="#44b044"/>
<circle cx="80.4" cy="577.4" r="1.0" fill="#44b044"/>
<circle cx="103.6" cy="667.4" r="1.0" fill="#8aa0c8"/>
<circle cx="211.7" cy="525.6" r="1.0" fill="#98dc44"/>
<circle cx="169.6" cy="590.3" r="1.0" fill="#9a5ce4"/>
<circle cx="250.9" cy="635.7" r="1.0" fill="#e070d4"/>
<circle cx="96.1" cy="563.1" r="1.2" fill="#b0b0c8"/>
<circle cx="151.0" cy="626.7" r="1.2" fill="#6262e4"/>
<circle cx="181.0" cy="611.5" r="1.2" fill="#98dc44"/>
<circle cx="147.3" cy="666.6" r="1.2" fill="#f0a040"/>
<circle cx="280.3" cy="588.7" r="1.2" fill="#40c8d8"/>
<circle cx="280.3" cy="608.2" r="1.2" fill="#40c8d8"/>
<circle cx="293.0" cy="623.6" r="1.2" fill="#40c8d8"/>
<circle cx="309.8" cy="634.3" r="1.2" fill="#40c8d8"/>
<circle cx="293.0" cy="642.7" r="1.2" fill="#40c8d8"/>
<circle cx="197.6" cy="657.3" r="1.2" fill="#e0a0a0"/>
<circle cx="123.0" cy="558.1" r="1.5" fill="#44b044"/>
<circle cx="51.2" cy="624.4" r="1.5" fill="#5cd890"/>
<circle cx="121.6" cy="662.4" r="1.5" fill="#8aa0c8"/>
<circle cx="210.3" cy="543.8" r="1.5" fill="#98dc44"/>
<circle cx="199.9" cy="582.5" r="1.5" fill="#98dc44"/>
<circle cx="254.3" cy="576.9" r="1.5" fill="#6262e4"/>
<circle cx="263.0" cy="597.5" r="1.5" fill="#40c8d8"/>
<circle cx="206.0" cy="600.6" r="1.5" fill="#f0a040"/>
<circle cx="217.3" cy="613.0" r="1.5" fill="#f0a040"/>
<circle cx="191.5" cy="634.8" r="1.5" fill="#f0a040"/>
<circle cx="164.8" cy="570.0" r="1.8" fill="#e8503c"/>
<circle cx="134.0" cy="630.4" r="1.8" fill="#6262e4"/>
<circle cx="172.5" cy="627.5" r="1.8" fill="#9a5ce4"/>
<circle cx="102.3" cy="649.2" r="1.8" fill="#8aa0c8"/>
<circle cx="228.5" cy="544.1" r="1.8" fill="#e8503c"/>
<circle cx="164.9" cy="569.9" r="1.8" fill="#e8503c"/>
<circle cx="246.7" cy="593.1" r="1.8" fill="#6262e4"/>
<circle cx="142.3" cy="560.6" r="2.0" fill="#44b044"/>
<circle cx="32.0" cy="599.5" r="2.0" fill="#5cd890"/>
<circle cx="32.5" cy="618.2" r="2.0" fill="#5cd890"/>
<circle cx="101.1" cy="628.0" r="2.0" fill="#6096e0"/>
<circle cx="143.5" cy="643.7" r="2.0" fill="#6262e4"/>
<circle cx="164.3" cy="674.4" r="2.0" fill="#f0a040"/>
<circle cx="190.6" cy="542.7" r="2.0" fill="#e8503c"/>
<circle cx="236.9" cy="577.7" r="2.0" fill="#6262e4"/>
<circle cx="197.6" cy="616.6" r="2.0" fill="#f0a040"/>
<circle cx="47.4" cy="608.2" r="2.2" fill="#5cd890"/>
<circle cx="154.8" cy="584.1" r="2.3" fill="#9a5ce4"/>
<circle cx="134.8" cy="596.8" r="2.3" fill="#6096e0"/>
<circle cx="239.1" cy="558.7" r="2.3" fill="#e8503c"/>
<circle cx="155.0" cy="583.9" r="2.3" fill="#9a5ce4"/>
<circle cx="101.8" cy="608.2" r="2.5" fill="#6096e0"/>
<circle cx="121.0" cy="642.4" r="2.5" fill="#8aa0c8"/>
<circle cx="178.0" cy="555.0" r="2.5" fill="#e8503c"/>
<circle cx="221.5" cy="562.0" r="2.5" fill="#e8503c"/>
<circle cx="98.6" cy="582.4" r="2.6" fill="#44b044"/>
<circle cx="50.7" cy="591.6" r="2.6" fill="#5cd890"/>
<circle cx="116.0" cy="598.7" r="2.6" fill="#6096e0"/>
<circle cx="134.8" cy="613.7" r="3.0" fill="#6262e4"/>
<circle cx="150.5" cy="600.7" r="3.2" fill="#9a5ce4"/>
<circle cx="227.0" cy="595.1" r="3.2" fill="#6262e4"/>
<circle cx="253.7" cy="616.6" r="3.3" fill="#e070d4"/>
<circle cx="232.7" cy="627.8" r="3.3" fill="#e070d4"/>
<circle cx="65.4" cy="607.5" r="3.5" fill="#5cd890"/>
<circle cx="83.6" cy="615.0" r="3.5" fill="#6096e0"/>
<circle cx="86.1" cy="597.0" r="3.6" fill="#6096e0"/>
<circle cx="203.3" cy="560.0" r="3.9" fill="#e8503c"/>
<circle cx="184.5" cy="573.2" r="3.9" fill="#e8503c"/>
<circle cx="185.9" cy="595.8" r="3.9" fill="#98dc44"/>
<circle cx="237.7" cy="610.5" r="3.9" fill="#e070d4"/>
<circle cx="208.9" cy="629.8" r="3.9" fill="#f0a040"/>
<circle cx="83.1" cy="633.0" r="4.0" fill="#6096e0"/>
<circle cx="163.5" cy="643.2" r="4.5" fill="#9a5ce4"/>
<circle cx="118.6" cy="580.4" r="4.6" fill="#44b044"/>
<circle cx="217.8" cy="580.2" r="5.0" fill="#98dc44"/>
<circle cx="117.8" cy="621.2" r="5.5" fill="#6096e0"/>
<text x="146.0" y="524.4" font-size="3.57" text-anchor="middle" dominant-baseline="central" fill="#262626" fill-opacity="1.0" stroke="#262626" stroke-width="0.05" stroke-opacity="0.8" textLength="36.0" lengthAdjust="spacingAndGlyphs">univ malaysia pahang</text>
<text x="146.0" y="541.4" font-size="2.96" text-anchor="middle" dominant-baseline="central" fill="#262626" fill-opacity="1.0" stroke="#262626" stroke-width="0.04" stroke-opacity="0.8" textLength="10.0" lengthAdjust="spacingAndGlyphs">ppimer</text>
<text x="98.6" y="543.4" font-size="3.69" text-anchor="middle" dominant-baseline="central" fill="#262626" fill-opacity="1.0" stroke="#262626" stroke-width="0.06" stroke-opacity="0.8" textLength="35.0" lengthAdjust="spacingAndGlyphs">fairway med technol</text>
<text x="82.4" y="550.2" font-size="3.65" text-anchor="middle" dominant-baseline="central" fill="#262626" fill-opacity="1.0" stroke="#262626" stroke-width="0.05" stroke-opacity="0.8" textLength="55.0" lengthAdjust="spacingAndGlyphs">univ texas medbranch galveston</text>
<text x="142.3" y="560.8" font-size="4.24" text-anchor="middle" dominant-baseline="central" fill="#262626" fill-opacity="1.0" stroke="#262626" stroke-width="0.06" stroke-opacity="0.8" textLength="20.5" lengthAdjust="spacingAndGlyphs">amity univ</text>
<text x="96.1" y="563.3" font-size="4.26" text-anchor="middle" dominant-baseline="central" fill="#262626" fill-opacity="1.0" stroke="#262626" stroke-width="0.06" stroke-opacity="0.8" textLength="19.0" lengthAdjust="spacingAndGlyphs">mayo clin</text>
<text x="118.6" y="580.6" font-size="5.45" text-anchor="middle" dominant-baseline="central" fill="#262626" fill-opacity="1.0" stroke="#262626" stroke-width="0.08" stroke-opacity="0.8" textLength="38.7" lengthAdjust="spacingAndGlyphs">jamia hamdard</text>
<text x="86.1" y="597.2" font-size="5.06" text-anchor="middle" dominant-baseline="central" fill="#262626" fill-opacity="1.0" stroke="#262626" stroke-width="0.08" stroke-opacity="0.8" textLength="49.0" lengthAdjust="spacingAndGlyphs">kerman univ med sci</text>
<text x="150.5" y="600.9" font-size="4.82" text-anchor="middle" dominant-baseline="central" fill="#262626" fill-opacity="1.0" stroke="#262626" stroke-width="0.07" stroke-opacity="0.8" textLength="43.0" lengthAdjust="spacingAndGlyphs">natl univ singapore</text>
<text x="32.0" y="599.7" font-size="4.42" text-anchor="middle" dominant-baseline="central" fill="#262626" fill-opacity="1.0" stroke="#262626" stroke-width="0.07" stroke-opacity="0.8" textLength="25.0" lengthAdjust="spacingAndGlyphs">gachon univ</text>
<text x="65.4" y="607.7" font-size="5.02" text-anchor="middle" dominant-baseline="central" fill="#262626" fill-opacity="1.0" stroke="#262626" stroke-width="0.08" stroke-opacity="0.8" textLength="36.0" lengthAdjust="spacingAndGlyphs">yeungnam univ</text>
<text x="32.5" y="618.4" font-size="4.37" text-anchor="middle" dominant-baseline="central" fill="#262626" fill-opacity="1.0" stroke="#262626" stroke-width="0.07" stroke-opacity="0.8" textLength="36.0" lengthAdjust="spacingAndGlyphs">daegu haany univ</text>
<text x="51.2" y="624.6" font-size="4.37" text-anchor="middle" dominant-baseline="central" fill="#262626" fill-opacity="1.0" stroke="#262626" stroke-width="0.07" stroke-opacity="0.8" textLength="31.0" lengthAdjust="spacingAndGlyphs">univ pittsburgh</text>
<text x="134.8" y="613.9" font-size="4.82" text-anchor="middle" dominant-baseline="central" fill="#262626" fill-opacity="1.0" stroke="#262626" stroke-width="0.07" stroke-opacity="0.8" textLength="67.0" lengthAdjust="spacingAndGlyphs">natl inst pharmaceut educ res</text>
<text x="117.8" y="621.4" font-size="5.82" text-anchor="middle" dominant-baseline="central" fill="#262626" fill-opacity="1.0" stroke="#262626" stroke-width="0.09" stroke-opacity="0.8" textLength="46.0" lengthAdjust="spacingAndGlyphs">islamic azad univ</text>
<text x="83.1" y="633.2" font-size="5.27" text-anchor="middle" dominant-baseline="central" fill="#262626" fill-opacity="1.0" stroke="#262626" stroke-width="0.08" stroke-opacity="0.8" textLength="53.0" lengthAdjust="spacingAndGlyphs">zahedan univ med sci</text>
<text x="163.5" y="643.4" font-size="5.23" text-anchor="middle" dominant-baseline="central" fill="#262626" fill-opacity="1.0" stroke="#262626" stroke-width="0.08" stroke-opacity="0.8" textLength="26.0" lengthAdjust="spacingAndGlyphs">fudan univ</text>
<text x="121.0" y="642.6" font-size="4.81" text-anchor="middle" dominant-baseline="central" fill="#262626" fill-opacity="1.0" stroke="#262626" stroke-width="0.07" stroke-opacity="0.8" textLength="25.7" lengthAdjust="spacingAndGlyphs">univ tehran</text>
<text x="102.3" y="649.4" font-size="4.41" text-anchor="middle" dominant-baseline="central" fill="#262626" fill-opacity="1.0" stroke="#262626" stroke-width="0.07" stroke-opacity="0.8" textLength="43.0" lengthAdjust="spacingAndGlyphs">tarbiat modares univ</text>
<text x="103.6" y="667.6" font-size="3.96" text-anchor="middle" dominant-baseline="central" fill="#262626" fill-opacity="1.0" stroke="#262626" stroke-width="0.06" stroke-opacity="0.8" textLength="38.0" lengthAdjust="spacingAndGlyphs">karolinska univ hosp</text>
<text x="147.3" y="666.8" font-size="4.46" text-anchor="middle" dominant-baseline="central" fill="#262626" fill-opacity="1.0" stroke="#262626" stroke-width="0.07" stroke-opacity="0.8" textLength="23.0" lengthAdjust="spacingAndGlyphs">tianjin univ</text>
<text x="164.3" y="674.6" font-size="4.12" text-anchor="middle" dominant-baseline="central" fill="#262626" fill-opacity="1.0" stroke="#262626" stroke-width="0.06" stroke-opacity="0.8" textLength="31.0" lengthAdjust="spacingAndGlyphs">tianjin med univ</text>
<text x="149.3" y="686.3" font-size="3.54" text-anchor="middle" dominant-baseline="central" fill="#262626" fill-opacity="1.0" stroke="#262626" stroke-width="0.05" stroke-opacity="0.8" textLength="23.0" lengthAdjust="spacingAndGlyphs">univ michigan</text>
<text x="216.7" y="509.8" font-size="3.40" text-anchor="middle" dominant-baseline="central" fill="#262626" fill-opacity="1.0" stroke="#262626" stroke-width="0.05" stroke-opacity="0.8" textLength="8.0" lengthAdjust="spacingAndGlyphs">nibib</text>
<text x="211.7" y="525.8" font-size="3.86" text-anchor="middle" dominant-baseline="central" fill="#262626" fill-opacity="1.0" stroke="#262626" stroke-width="0.06" stroke-opacity="0.8" textLength="22.0" lengthAdjust="spacingAndGlyphs">nanjing univ</text>
<text x="228.5" y="544.3" font-size="4.14" text-anchor="middle" dominant-baseline="central" fill="#262626" fill-opacity="1.0" stroke="#262626" stroke-width="0.06" stroke-opacity="0.8" textLength="31.7" lengthAdjust="spacingAndGlyphs">wake forest univ</text>
<text x="203.3" y="560.2" font-size="4.84" text-anchor="middle" dominant-baseline="central" fill="#262626" fill-opacity="1.0" stroke="#262626" stroke-width="0.07" stroke-opacity="0.8" textLength="49.9" lengthAdjust="spacingAndGlyphs">peking union med coll</text>
<text x="184.5" y="573.4" font-size="5.01" text-anchor="middle" dominant-baseline="central" fill="#262626" fill-opacity="1.0" stroke="#262626" stroke-width="0.08" stroke-opacity="0.8" textLength="31.4" lengthAdjust="spacingAndGlyphs">tsinghua univ</text>
<text x="217.8" y="580.4" font-size="5.50" text-anchor="middle" dominant-baseline="central" fill="#262626" fill-opacity="1.0" stroke="#262626" stroke-width="0.08" stroke-opacity="0.8" textLength="32.2" lengthAdjust="spacingAndGlyphs">sichuan univ</text>
<text x="254.3" y="577.1" font-size="3.97" text-anchor="middle" dominant-baseline="central" fill="#262626" fill-opacity="1.0" stroke="#262626" stroke-width="0.06" stroke-opacity="0.8" textLength="30.3" lengthAdjust="spacingAndGlyphs">sichuan agr univ</text>
<text x="227.0" y="595.3" font-size="4.58" text-anchor="middle" dominant-baseline="central" fill="#262626" fill-opacity="1.0" stroke="#262626" stroke-width="0.07" stroke-opacity="0.8" textLength="34.5" lengthAdjust="spacingAndGlyphs">sun yat sen univ</text>
<text x="280.3" y="588.9" font-size="3.71" text-anchor="middle" dominant-baseline="central" fill="#262626" fill-opacity="1.0" stroke="#262626" stroke-width="0.06" stroke-opacity="0.8" textLength="42.9" lengthAdjust="spacingAndGlyphs">macau univ sci &amp; technol</text>
<text x="263.0" y="597.7" font-size="3.96" text-anchor="middle" dominant-baseline="central" fill="#262626" fill-opacity="1.0" stroke="#262626" stroke-width="0.06" stroke-opacity="0.8" textLength="18.0" lengthAdjust="spacingAndGlyphs">jinan univ</text>
<text x="169.6" y="590.5" font-size="3.45" text-anchor="middle" dominant-baseline="central" fill="#262626" fill-opacity="1.0" stroke="#262626" stroke-width="0.05" stroke-opacity="0.8" textLength="33.0" lengthAdjust="spacingAndGlyphs">morehouse sch med</text>
<text x="280.3" y="608.4" font-size="4.28" text-anchor="middle" dominant-baseline="central" fill="#262626" fill-opacity="1.0" stroke="#262626" stroke-width="0.06" stroke-opacity="0.8" textLength="22.4" lengthAdjust="spacingAndGlyphs">univ illinois</text>
<text x="197.6" y="616.8" font-size="4.29" text-anchor="middle" dominant-baseline="central" fill="#262626" fill-opacity="1.0" stroke="#262626" stroke-width="0.06" stroke-opacity="0.8" textLength="23.0" lengthAdjust="spacingAndGlyphs">peking univ</text>
<text x="253.7" y="616.8" font-size="4.91" text-anchor="middle" dominant-baseline="central" fill="#262626" fill-opacity="1.0" stroke="#262626" stroke-width="0.07" stroke-opacity="0.8" textLength="43.4" lengthAdjust="spacingAndGlyphs">king abdulaziz univ</text>
<text x="293.0" y="623.8" font-size="3.89" text-anchor="middle" dominant-baseline="central" fill="#262626" fill-opacity="1.0" stroke="#262626" stroke-width="0.06" stroke-opacity="0.8" textLength="26.0" lengthAdjust="spacingAndGlyphs">univ maryland</text>
<text x="232.7" y="628.0" font-size="4.76" text-anchor="middle" dominant-baseline="central" fill="#262626" fill-opacity="1.0" stroke="#262626" stroke-width="0.07" stroke-opacity="0.8" textLength="23.3" lengthAdjust="spacingAndGlyphs">enzymnics</text>
<text x="309.8" y="634.5" font-size="3.97" text-anchor="middle" dominant-baseline="central" fill="#262626" fill-opacity="1.0" stroke="#262626" stroke-width="0.06" stroke-opacity="0.8" textLength="28.6" lengthAdjust="spacingAndGlyphs">penn state univ</text>
<text x="191.5" y="635.0" font-size="3.85" text-anchor="middle" dominant-baseline="central" fill="#262626" fill-opacity="1.0" stroke="#262626" stroke-width="0.06" stroke-opacity="0.8" textLength="28.9" lengthAdjust="spacingAndGlyphs">chinese acad sci</text>
<text x="250.9" y="635.9" font-size="4.29" text-anchor="middle" dominant-baseline="central" fill="#262626" fill-opacity="1.0" stroke="#262626" stroke-width="0.06" stroke-opacity="0.8" textLength="17.4" lengthAdjust="spacingAndGlyphs">jouf univ</text>
<text x="293.0" y="642.9" font-size="3.88" text-anchor="middle" dominant-baseline="central" fill="#262626" fill-opacity="1.0" stroke="#262626" stroke-width="0.06" stroke-opacity="0.8" textLength="21.9" lengthAdjust="spacingAndGlyphs">univ virginia</text>
<text x="220.0" y="645.7" font-size="3.51" text-anchor="middle" dominant-baseline="central" fill="#262626" fill-opacity="1.0" stroke="#262626" stroke-width="0.05" stroke-opacity="0.8" textLength="39.0" lengthAdjust="spacingAndGlyphs">southwest jiaotong univ</text>
<text x="197.6" y="657.5" font-size="4.50" text-anchor="middle" dominant-baseline="central" fill="#262626" fill-opacity="1.0" stroke="#262626" stroke-width="0.07" stroke-opacity="0.8" textLength="27.5" lengthAdjust="spacingAndGlyphs">zhejiang univ</text>
<text x="213.9" y="667.6" font-size="3.48" text-anchor="middle" dominant-baseline="central" fill="#262626" fill-opacity="1.0" stroke="#262626" stroke-width="0.05" stroke-opacity="0.8" textLength="24.4" lengthAdjust="spacingAndGlyphs">univ tennessee</text>
<text x="193.4" y="676.5" font-size="3.73" text-anchor="middle" dominant-baseline="central" fill="#262626" fill-opacity="1.0" stroke="#262626" stroke-width="0.06" stroke-opacity="0.8" textLength="19.6" lengthAdjust="spacingAndGlyphs">jiaxing univ</text>
<rect x="6.0" y="687.4" width="44.4" height="14.5" rx="3.2" fill="#fff" stroke="#e6e6e6" stroke-width="0.9"/>
<path d="M8.80 698.80L11.75 690.00L13.39 690.00L17.00 697.48L15.20 698.54L12.90 694.84L11.26 698.80Z" fill="#3cc8b4"/>
<ellipse cx="10.44" cy="697.22" rx="1.39" ry="1.32" fill="#9ad840" fill-opacity="0.85"/>
<ellipse cx="15.52" cy="697.48" rx="1.15" ry="0.88" fill="#7ad870" fill-opacity="0.7"/>
<circle cx="12.49" cy="692.64" r="1.23" fill="#e0c040"/>
<circle cx="12.49" cy="692.64" r="0.66" fill="#d04030"/>
<text x="18.0" y="696.6" font-size="5.45" fill="#777" textLength="26.7" lengthAdjust="spacingAndGlyphs">VOSviewer</text>
<text transform="translate(16.50 514.20) scale(0.640 1)" font-size="17.73" fill="#111" stroke="#111" stroke-width="0.45">E</text>
<path d="M584.2 602.0Q596.3 604.1 603.0 593.7M581.7 628.9Q578.6 647.3 594.3 657.3M603.0 593.7Q577.7 622.6 594.3 657.3M625.7 603.8Q621.7 596.1 613.1 596.7M608.1 654.0Q629.5 627.0 613.1 596.7M568.7 616.4Q604.0 603.0 605.6 565.3M610.6 579.9Q592.2 572.3 578.0 586.2M578.0 586.2Q591.3 564.7 576.7 544.0M568.7 616.4Q571.1 626.9 581.7 628.9M584.2 558.3Q590.3 577.8 610.6 579.9M554.9 661.0Q605.2 637.2 603.0 581.6M609.3 628.9Q582.5 626.6 569.9 650.3M576.7 544.0Q584.1 564.2 605.6 565.3M605.6 637.7Q601.5 646.7 608.1 654.0M576.7 544.0Q575.7 553.6 584.2 558.3M609.3 628.9Q577.0 636.9 571.7 669.8M584.2 663.3Q581.3 652.1 569.9 650.3M613.1 596.7Q600.6 611.5 609.3 628.9M569.9 650.3Q605.1 632.9 603.0 593.7M613.1 596.7Q596.9 589.8 584.2 602.0M609.3 628.9Q626.1 604.8 610.6 579.9M603.0 581.6Q607.0 600.2 625.7 603.8M584.2 663.3Q608.1 654.4 609.3 628.9M622.6 623.9Q611.8 629.9 613.1 642.2M605.6 637.7Q594.2 614.9 568.7 616.4M610.6 579.9Q602.2 584.3 603.0 593.7M608.1 654.0Q629.4 616.1 603.0 581.6M569.9 650.3Q580.5 633.0 568.7 616.4M571.7 669.8Q566.2 659.9 554.9 661.0M622.6 623.9Q609.5 625.2 605.6 637.7M578.0 586.2Q577.1 625.8 613.1 642.2M605.6 565.3Q584.9 566.6 578.0 586.2M609.3 628.9Q617.8 609.2 603.0 593.7M622.6 623.9Q633.4 589.0 605.6 565.3M609.3 628.9Q571.5 627.0 554.9 661.0M581.7 628.9Q608.0 623.2 613.1 596.7M603.0 581.6Q590.5 607.3 609.3 628.9M605.6 565.3Q598.3 560.0 590.5 564.6M578.0 586.2Q565.8 608.8 581.7 628.9M600.6 620.1Q610.3 629.3 622.6 623.9M608.1 654.0Q600.8 622.2 568.7 616.4M585.5 637.7Q612.8 615.4 603.0 581.6M603.0 581.6Q602.4 569.0 590.5 564.6M605.6 565.3Q599.0 583.5 613.1 596.7M608.1 654.0Q600.1 651.1 594.3 657.3M603.0 593.7Q593.1 606.1 600.6 620.1M622.6 623.9Q605.4 634.2 608.1 654.0M613.1 642.2Q591.7 643.2 584.2 663.3M578.0 586.2Q563.4 598.2 568.7 616.4M584.2 602.0Q586.3 592.1 578.0 586.2M569.9 650.3Q605.0 654.5 622.6 623.9M584.2 558.3Q569.8 580.1 584.2 602.0M568.7 616.4Q593.3 616.4 603.0 593.7M576.7 544.0Q573.4 577.5 603.0 593.7M605.6 565.3Q548.7 596.4 554.9 661.0M554.9 661.0Q578.9 653.8 581.7 628.9M610.6 579.9Q610.3 596.8 625.7 603.8M578.0 586.2Q578.1 610.6 600.6 620.1M605.6 565.3Q591.8 557.5 579.2 567.1M622.6 623.9Q600.5 612.9 581.7 628.9M584.2 602.0Q596.2 625.6 622.6 623.9M608.1 654.0Q633.5 634.7 625.7 603.8M569.9 650.3Q608.5 614.2 590.5 564.6M594.3 657.3Q606.4 651.2 605.6 637.7M590.5 564.6Q587.1 583.3 603.0 593.7M609.3 628.9Q606.8 636.8 613.1 642.2M622.6 623.9Q576.5 620.1 554.9 661.0M590.5 564.6Q575.0 581.2 584.2 602.0M609.3 628.9Q617.6 630.8 622.6 623.9M603.0 593.7Q593.0 581.7 578.0 586.2M578.0 586.2Q591.4 579.5 590.5 564.6M605.6 637.7Q606.7 612.8 584.2 602.0M605.6 637.7Q595.5 631.1 585.5 637.7M590.5 564.6Q589.4 559.4 584.2 558.3M584.2 558.3Q556.6 611.1 594.3 657.3M563.6 599.3Q549.9 626.9 569.9 650.3M603.0 581.6Q599.0 587.7 603.0 593.7M610.6 579.9Q612.9 570.9 605.6 565.3M585.5 637.7Q598.7 609.5 578.0 586.2M563.6 599.3Q575.1 597.5 578.0 586.2M608.1 654.0Q584.7 649.9 571.7 669.8M585.5 637.7Q584.1 621.5 568.7 616.4M613.1 642.2Q628.1 619.5 613.1 596.7M571.7 669.8Q612.5 642.1 603.0 593.7M603.0 581.6Q595.9 566.5 579.2 567.1M554.9 661.0Q591.1 631.2 578.0 586.2M571.7 669.8Q577.2 659.5 569.9 650.3M605.6 565.3Q594.9 578.6 603.0 593.7M613.1 596.7Q585.8 608.1 585.5 637.7M622.6 623.9Q629.6 564.8 578.0 535.2M622.6 623.9Q612.7 590.3 578.0 586.2M625.7 603.8Q617.5 612.8 622.6 623.9M609.3 628.9Q604.5 632.1 605.6 637.7M563.6 599.3Q560.5 609.5 568.7 616.4M571.7 669.8Q612.3 663.6 622.6 623.9M584.2 558.3Q581.9 582.2 603.0 593.7M590.5 564.6Q591.2 588.1 613.1 596.7M569.9 650.3Q613.1 645.5 625.7 603.8M622.6 623.9Q599.5 618.6 585.5 637.7M609.3 628.9Q607.9 621.6 600.6 620.1M608.1 654.0Q625.4 622.2 603.0 593.7M590.5 564.6Q540.9 601.1 554.9 661.0M622.6 623.9Q625.0 578.4 584.2 558.3M568.7 616.4Q568.0 645.3 594.3 657.3M603.0 593.7Q556.7 611.5 554.9 661.0M554.9 661.0Q609.5 638.8 610.6 579.9M585.5 637.7Q608.8 621.5 603.0 593.7M603.0 593.7Q602.8 615.3 622.6 623.9M603.0 593.7Q599.9 572.5 579.2 567.1M584.2 663.3Q591.9 634.7 568.7 616.4M622.6 623.9Q590.4 630.9 584.2 663.3M605.6 565.3Q577.6 610.5 608.1 654.0" fill="none" stroke="#e04a3c" stroke-width="0.6" stroke-opacity="0.42"/>
<path d="M412.3 633.2Q438.9 671.6 484.7 662.3M468.8 672.4Q480.1 672.6 484.7 662.3M534.0 601.3Q511.4 619.3 519.0 647.2M459.5 610.8Q473.7 622.9 490.5 614.6M547.3 679.9Q540.4 628.5 490.5 614.6M456.2 637.0Q464.6 679.7 507.2 688.7M509.7 599.5Q521.3 608.4 534.0 601.3M532.3 664.8Q554.1 633.6 534.0 601.3M511.4 674.1Q507.2 646.5 480.1 639.5M532.3 664.8Q509.3 647.8 484.7 662.3M463.8 623.4Q470.9 664.5 511.4 674.1M547.3 679.9Q531.3 665.2 511.4 674.1M466.3 662.3Q520.3 654.1 534.0 601.3M470.0 636.0Q501.9 630.9 509.7 599.5M527.7 620.6Q473.1 630.6 460.8 684.7M532.3 664.8Q528.0 625.9 490.5 614.6M502.7 640.2Q486.4 645.3 484.7 662.3M492.6 669.1Q471.6 666.4 460.8 684.7M527.7 620.6Q511.1 605.3 490.5 614.6M439.4 617.1Q482.4 648.0 527.7 620.6M456.2 637.0Q478.4 653.9 502.7 640.2M463.8 623.4Q494.7 635.1 517.7 611.3M484.7 662.3Q529.5 648.1 534.0 601.3M519.0 647.2Q498.6 649.4 492.6 669.1M449.5 650.3Q455.4 630.4 439.4 617.1M435.4 594.5Q419.5 603.0 421.1 620.9M541.6 644.7Q542.6 628.1 527.7 620.6M490.5 614.6Q516.6 622.3 534.0 601.3M449.5 650.3Q436.5 629.5 412.3 633.2M468.8 672.4Q515.3 665.9 527.7 620.6M484.7 662.3Q478.8 640.2 456.2 637.0M534.0 601.3Q481.5 578.0 439.4 617.1M527.7 620.6Q525.7 604.1 509.7 599.5M517.7 611.3Q529.1 611.7 534.0 601.3M463.8 623.4Q465.8 615.7 459.5 610.8M519.0 647.2Q487.7 637.4 466.3 662.3M492.6 669.1Q525.2 673.1 541.6 644.7M466.3 662.3Q480.7 655.5 480.1 639.5M490.5 614.6Q470.2 645.7 490.9 676.6M509.7 599.5Q499.5 639.6 532.3 664.8M480.1 639.5Q469.0 630.4 456.2 637.0M456.2 637.0Q454.4 621.5 439.4 617.1M412.3 633.2Q474.2 665.0 527.7 620.6M509.7 599.5Q495.1 600.7 490.5 614.6M484.7 662.3Q477.0 624.8 439.4 617.1M527.7 620.6Q490.2 577.1 435.4 594.5M511.4 674.1Q537.2 652.7 527.7 620.6M519.0 647.2Q496.9 643.4 484.7 662.3M412.3 633.2Q441.3 645.3 463.8 623.4M449.5 650.3Q468.4 655.0 480.1 639.5M527.7 620.6Q483.2 621.2 466.3 662.3M527.7 620.6Q486.5 605.2 456.2 637.0M532.3 664.8Q531.5 651.6 519.0 647.2M421.1 620.9Q440.6 644.6 470.0 636.0M507.2 688.7Q538.0 653.5 517.7 611.3M527.7 620.6Q492.4 627.3 484.7 662.3M511.4 674.1Q524.1 663.2 519.0 647.2M517.7 611.3Q482.8 635.1 490.9 676.6M490.9 676.6Q474.4 625.7 421.1 620.9M421.1 620.9Q461.4 666.4 519.0 647.2M527.7 620.6Q517.9 656.7 547.3 679.9M435.4 594.5Q442.1 610.6 459.5 610.8M511.4 674.1Q506.3 625.3 459.5 610.8M470.0 636.0Q462.8 631.9 456.2 637.0M532.3 664.8Q544.6 641.2 527.7 620.6M468.8 672.4Q498.7 650.7 490.5 614.6M509.7 599.5Q467.3 616.6 466.3 662.3M527.7 620.6Q525.8 612.7 517.7 611.3M511.4 674.1Q501.9 659.4 484.7 662.3M532.3 664.8Q510.7 629.8 470.0 636.0M502.7 640.2Q505.0 623.4 490.5 614.6M534.0 601.3Q475.6 597.9 449.5 650.3M456.2 637.0Q459.8 608.9 435.4 594.5M463.8 623.4Q453.7 612.2 439.4 617.1M490.5 614.6Q474.2 610.2 463.8 623.4M490.5 614.6Q473.2 618.5 470.0 636.0M480.1 639.5Q467.1 614.9 439.4 617.1M517.7 611.3Q476.6 588.4 439.4 617.1M460.8 684.7Q498.8 659.5 490.5 614.6M459.5 610.8Q447.4 607.3 439.4 617.1M490.9 676.6Q527.8 660.7 527.7 620.6M502.7 640.2Q520.7 655.3 541.6 644.7M527.7 620.6Q514.6 631.0 519.0 647.2M527.7 620.6Q537.2 613.0 534.0 601.3M519.0 647.2Q489.1 605.9 439.4 617.1M517.7 611.3Q478.5 603.9 456.2 637.0M466.3 662.3Q485.0 683.1 511.4 674.1M507.2 688.7Q527.6 685.0 532.3 664.8M484.7 662.3Q486.4 668.3 492.6 669.1M439.4 617.1Q445.5 663.8 490.9 676.6M541.6 644.7Q530.3 651.7 532.3 664.8M507.2 688.7Q526.8 671.8 519.0 647.2M449.5 650.3Q457.2 645.9 456.2 637.0M517.7 611.3Q484.4 625.9 484.7 662.3M459.5 610.8Q457.6 665.5 507.2 688.7M468.8 672.4Q453.5 634.2 412.3 633.2M492.6 669.1Q489.3 672.3 490.9 676.6M466.3 662.3Q494.1 646.4 490.5 614.6M541.6 644.7Q526.0 612.8 490.5 614.6M507.2 688.7Q514.1 682.8 511.4 674.1M412.3 633.2Q457.5 649.7 490.5 614.6" fill="none" stroke="#4a8fe0" stroke-width="0.6" stroke-opacity="0.42"/>
<path d="M579.2 567.1Q544.0 549.5 513.9 574.9M608.1 654.0Q602.4 573.9 526.5 547.7M483.9 562.0Q509.7 633.4 585.5 637.7M513.9 574.9Q552.2 613.7 603.0 593.7M497.2 579.5Q534.5 649.1 613.1 642.2M584.2 663.3Q568.4 592.7 497.2 579.5M463.8 571.6Q536.8 615.2 605.6 565.3M584.2 558.3Q561.2 526.2 522.7 534.7M584.2 602.0Q573.3 555.8 526.5 547.7M584.2 663.3Q578.2 595.9 513.9 574.9M513.9 574.9Q530.0 624.3 581.7 628.9M603.0 581.6Q575.9 539.4 526.5 547.7M522.7 534.7Q521.1 601.3 581.7 628.9M576.7 544.0Q543.0 520.0 507.7 541.5M613.1 596.7Q546.7 534.9 463.8 571.6M578.0 586.2Q538.9 543.0 483.9 562.0M513.9 574.9Q554.5 589.8 584.2 558.3M603.0 593.7Q560.7 542.7 497.2 561.6M584.2 558.3Q519.3 513.3 452.5 555.3M507.7 541.5Q542.1 593.0 603.0 581.6M498.9 522.1Q531.3 586.2 603.0 581.6M497.2 579.5Q535.4 609.5 578.0 586.2M569.9 650.3Q582.1 584.7 526.5 547.7" fill="none" stroke="#968142" stroke-width="0.6" stroke-opacity="0.42"/>
<path d="M513.9 574.9Q523.8 543.5 498.9 522.1M513.9 574.9Q516.9 584.1 526.5 584.9M483.9 562.0Q509.9 568.9 526.5 547.7M483.9 562.0Q507.0 588.3 540.3 577.4M513.9 574.9Q543.3 555.9 537.3 521.4M540.3 577.4Q543.2 558.0 526.5 547.7M513.9 574.9Q489.7 544.8 452.5 555.3M537.3 521.4Q525.6 523.2 522.7 534.7M526.5 547.7Q501.4 553.9 497.2 579.5M526.5 584.9Q521.8 552.4 490.1 544.0M513.9 574.9Q512.2 551.6 490.1 544.0M537.3 521.4Q497.2 524.1 483.9 562.0M513.9 574.9Q529.2 565.5 526.5 547.7M526.5 547.7Q507.3 545.0 497.2 561.6M540.3 577.4Q518.1 564.2 497.2 579.5M452.5 555.3Q440.8 568.8 448.7 584.9M507.7 541.5Q509.7 528.9 498.9 522.1M526.5 584.9Q541.2 558.5 522.7 534.7M497.2 579.5Q503.1 570.5 497.2 561.6M448.7 584.9Q480.6 589.3 497.2 561.6M514.7 518.1Q507.9 556.2 540.3 577.4M483.9 562.0Q512.3 561.2 522.7 534.7M497.2 561.6Q477.2 555.6 463.8 571.6M522.7 534.7Q505.0 551.9 513.9 574.9M537.3 521.4Q498.1 537.2 497.2 579.5M490.1 544.0Q481.1 551.0 483.9 562.0M513.9 574.9Q526.3 584.9 540.3 577.4M457.0 518.1Q430.8 548.8 448.7 584.9M526.5 547.7Q487.3 539.0 463.8 571.6M526.5 547.7Q509.5 533.8 490.1 544.0M522.7 534.7Q495.2 548.7 497.2 579.5M522.7 534.7Q520.3 542.5 526.5 547.7M513.9 574.9Q504.0 571.7 497.2 579.5M483.9 562.0Q490.7 566.2 497.2 561.6M463.8 571.6Q487.8 589.8 513.9 574.9M497.2 561.6Q513.5 583.7 540.3 577.4M498.9 522.1Q501.4 563.4 540.3 577.4M483.9 562.0Q513.8 550.2 514.7 518.1M526.5 584.9Q513.6 572.5 497.2 579.5M483.9 562.0Q497.6 587.5 526.5 584.9M448.7 584.9Q502.3 584.2 522.7 534.7M483.9 562.0Q494.6 578.4 513.9 574.9M452.5 555.3Q452.8 567.2 463.8 571.6M483.9 562.0Q502.6 559.6 507.7 541.5M513.9 574.9Q533.0 546.8 514.7 518.1M507.7 541.5Q499.8 560.2 513.9 574.9M513.9 574.9Q499.8 543.1 465.0 543.5M457.0 518.1Q479.1 575.2 540.3 577.4M497.2 561.6Q501.2 573.8 513.9 574.9M497.2 579.5Q482.8 552.6 452.5 555.3M448.7 584.9Q492.5 582.7 507.7 541.5" fill="none" stroke="#4cb848" stroke-width="0.6" stroke-opacity="0.42"/>
<path d="M527.7 620.6Q552.0 642.6 581.7 628.9M484.7 662.3Q544.9 656.8 563.6 599.3M585.5 637.7Q560.2 593.6 509.7 599.5M412.3 633.2Q512.2 696.1 609.3 628.9M490.5 614.6Q553.6 641.3 603.0 593.7M563.6 599.3Q538.6 598.1 527.7 620.6M466.3 662.3Q535.0 683.7 581.7 628.9M609.3 628.9Q571.2 597.8 527.7 620.6M532.3 664.8Q591.1 652.6 603.0 593.7M590.5 564.6Q524.0 556.6 490.5 614.6M603.0 593.7Q554.4 565.8 509.7 599.5M605.6 565.3Q548.4 567.2 527.7 620.6M484.7 662.3Q558.0 686.7 609.3 628.9M584.2 663.3Q553.4 608.0 490.5 614.6M584.2 663.3Q570.0 623.3 527.7 620.6M421.1 620.9Q480.3 695.0 571.7 669.8M610.6 579.9Q539.1 557.6 490.5 614.6M609.3 628.9Q580.8 590.3 534.0 601.3M532.3 664.8Q580.2 680.2 613.1 642.2M600.6 620.1Q522.8 580.9 456.2 637.0M511.4 674.1Q583.7 664.1 603.0 593.7M507.2 688.7Q578.0 692.5 609.3 628.9M502.7 640.2Q568.2 650.0 603.0 593.7M502.7 640.2Q576.5 645.7 610.6 579.9M581.7 628.9Q540.8 591.7 490.5 614.6M502.7 640.2Q543.6 650.1 568.7 616.4" fill="none" stroke="#956c8e" stroke-width="0.6" stroke-opacity="0.42"/>
<path d="M507.7 541.5Q472.6 589.2 502.7 640.2M540.3 577.4Q478.6 579.4 456.2 637.0M534.0 601.3Q532.7 581.5 513.9 574.9M439.4 617.1Q490.6 620.6 513.9 574.9M517.7 611.3Q527.8 591.8 513.9 574.9M497.2 561.6Q451.8 585.8 456.2 637.0M463.8 623.4Q495.0 612.5 497.2 579.5M540.3 577.4Q518.7 611.5 541.6 644.7M456.2 637.0Q505.5 625.0 513.9 574.9M513.9 574.9Q472.8 582.6 463.8 623.4M456.2 637.0Q481.3 594.9 452.5 555.3M484.7 662.3Q528.1 628.2 513.9 574.9M513.9 574.9Q503.7 585.8 509.7 599.5M483.9 562.0Q433.1 570.7 421.1 620.9M483.9 562.0Q443.5 574.9 439.4 617.1M457.0 518.1Q427.7 565.3 459.5 610.8M463.8 623.4Q500.9 603.5 497.2 561.6M541.6 644.7Q566.1 591.2 526.5 547.7M452.5 555.3Q468.6 612.8 527.7 620.6M468.8 672.4Q542.7 610.4 514.7 518.1M517.7 611.3Q503.6 561.8 452.5 555.3M527.7 620.6Q551.2 583.8 526.5 547.7M484.7 662.3Q540.5 638.2 540.3 577.4M513.9 574.9Q505.7 602.3 527.7 620.6M457.0 518.1Q403.9 602.7 460.8 684.7M490.1 544.0Q453.6 588.5 480.1 639.5M421.1 620.9Q495.1 638.5 540.3 577.4" fill="none" stroke="#4ba394" stroke-width="0.6" stroke-opacity="0.42"/>
<circle cx="621.0" cy="613.0" r="1.0" fill="#e04a3c"/>
<circle cx="547.3" cy="679.9" r="1.0" fill="#4a8fe0"/>
<circle cx="578.0" cy="535.2" r="1.2" fill="#e04a3c"/>
<circle cx="498.9" cy="522.1" r="1.3" fill="#4cb848"/>
<circle cx="465.0" cy="585.4" r="1.3" fill="#4cb848"/>
<circle cx="448.7" cy="584.9" r="1.3" fill="#4cb848"/>
<circle cx="563.6" cy="599.3" r="1.3" fill="#e04a3c"/>
<circle cx="584.2" cy="602.0" r="1.3" fill="#e04a3c"/>
<circle cx="449.5" cy="650.3" r="1.3" fill="#4a8fe0"/>
<circle cx="522.7" cy="534.7" r="1.5" fill="#4cb848"/>
<circle cx="465.0" cy="543.5" r="1.5" fill="#4cb848"/>
<circle cx="463.8" cy="571.6" r="1.5" fill="#4cb848"/>
<circle cx="526.5" cy="584.9" r="1.5" fill="#4cb848"/>
<circle cx="576.7" cy="544.0" r="1.5" fill="#e04a3c"/>
<circle cx="579.2" cy="567.1" r="1.5" fill="#e04a3c"/>
<circle cx="600.6" cy="620.1" r="1.5" fill="#e04a3c"/>
<circle cx="594.3" cy="657.3" r="1.5" fill="#e04a3c"/>
<circle cx="571.7" cy="669.8" r="1.5" fill="#e04a3c"/>
<circle cx="435.4" cy="594.5" r="1.5" fill="#4a8fe0"/>
<circle cx="470.0" cy="636.0" r="1.5" fill="#4a8fe0"/>
<circle cx="480.1" cy="639.5" r="1.5" fill="#4a8fe0"/>
<circle cx="541.6" cy="644.7" r="1.5" fill="#4a8fe0"/>
<circle cx="492.6" cy="669.1" r="1.5" fill="#4a8fe0"/>
<circle cx="468.8" cy="672.4" r="1.5" fill="#4a8fe0"/>
<circle cx="460.8" cy="684.7" r="1.5" fill="#4a8fe0"/>
<circle cx="457.0" cy="518.1" r="1.8" fill="#4cb848"/>
<circle cx="497.2" cy="561.6" r="1.8" fill="#4cb848"/>
<circle cx="584.2" cy="558.3" r="1.8" fill="#e04a3c"/>
<circle cx="625.7" cy="603.8" r="1.8" fill="#e04a3c"/>
<circle cx="585.5" cy="637.7" r="1.8" fill="#e04a3c"/>
<circle cx="605.6" cy="637.7" r="1.8" fill="#e04a3c"/>
<circle cx="463.8" cy="623.4" r="1.8" fill="#4a8fe0"/>
<circle cx="502.7" cy="640.2" r="1.8" fill="#4a8fe0"/>
<circle cx="511.4" cy="674.1" r="1.8" fill="#4a8fe0"/>
<circle cx="507.2" cy="688.7" r="1.8" fill="#4a8fe0"/>
<circle cx="514.7" cy="518.1" r="2.0" fill="#4cb848"/>
<circle cx="507.7" cy="541.5" r="2.0" fill="#4cb848"/>
<circle cx="613.1" cy="596.7" r="2.0" fill="#e04a3c"/>
<circle cx="517.7" cy="611.3" r="2.0" fill="#4a8fe0"/>
<circle cx="412.3" cy="633.2" r="2.0" fill="#4a8fe0"/>
<circle cx="466.3" cy="662.3" r="2.0" fill="#4a8fe0"/>
<circle cx="490.9" cy="676.6" r="2.0" fill="#4a8fe0"/>
<circle cx="537.3" cy="521.4" r="2.3" fill="#4cb848"/>
<circle cx="490.1" cy="544.0" r="2.3" fill="#4cb848"/>
<circle cx="497.2" cy="579.5" r="2.3" fill="#4cb848"/>
<circle cx="590.5" cy="564.6" r="2.3" fill="#e04a3c"/>
<circle cx="603.0" cy="581.6" r="2.3" fill="#e04a3c"/>
<circle cx="568.7" cy="616.4" r="2.3" fill="#e04a3c"/>
<circle cx="581.7" cy="628.9" r="2.3" fill="#e04a3c"/>
<circle cx="613.1" cy="642.2" r="2.3" fill="#e04a3c"/>
<circle cx="608.1" cy="654.0" r="2.3" fill="#e04a3c"/>
<circle cx="554.9" cy="661.0" r="2.3" fill="#e04a3c"/>
<circle cx="459.5" cy="610.8" r="2.3" fill="#4a8fe0"/>
<circle cx="439.4" cy="617.1" r="2.5" fill="#4a8fe0"/>
<circle cx="483.9" cy="562.0" r="2.6" fill="#4cb848"/>
<circle cx="610.6" cy="579.9" r="2.6" fill="#e04a3c"/>
<circle cx="578.0" cy="586.2" r="2.6" fill="#e04a3c"/>
<circle cx="569.9" cy="650.3" r="2.6" fill="#e04a3c"/>
<circle cx="584.2" cy="663.3" r="2.6" fill="#e04a3c"/>
<circle cx="509.7" cy="599.5" r="2.6" fill="#4a8fe0"/>
<circle cx="421.1" cy="620.9" r="2.6" fill="#4a8fe0"/>
<circle cx="456.2" cy="637.0" r="2.6" fill="#4a8fe0"/>
<circle cx="532.3" cy="664.8" r="2.6" fill="#4a8fe0"/>
<circle cx="452.5" cy="555.3" r="3.0" fill="#4cb848"/>
<circle cx="540.3" cy="577.4" r="3.0" fill="#4cb848"/>
<circle cx="605.6" cy="565.3" r="3.0" fill="#e04a3c"/>
<circle cx="534.0" cy="601.3" r="3.0" fill="#4a8fe0"/>
<circle cx="519.0" cy="647.2" r="3.0" fill="#4a8fe0"/>
<circle cx="622.6" cy="623.9" r="3.6" fill="#e04a3c"/>
<circle cx="609.3" cy="628.9" r="3.6" fill="#e04a3c"/>
<circle cx="484.7" cy="662.3" r="4.0" fill="#4a8fe0"/>
<circle cx="526.5" cy="547.7" r="4.2" fill="#4cb848"/>
<circle cx="603.0" cy="593.7" r="4.5" fill="#e04a3c"/>
<circle cx="490.5" cy="614.6" r="5.0" fill="#4a8fe0"/>
<circle cx="527.7" cy="620.6" r="5.5" fill="#4a8fe0"/>
<circle cx="513.9" cy="574.9" r="6.3" fill="#4cb848"/>
<text x="457.0" y="518.3" font-size="3.77" text-anchor="middle" dominant-baseline="central" fill="#262626" fill-opacity="1.0" stroke="#262626" stroke-width="0.06" stroke-opacity="0.8" textLength="34.6" lengthAdjust="spacingAndGlyphs">biosens bioelectron</text>
<text x="514.7" y="518.3" font-size="3.69" text-anchor="middle" dominant-baseline="central" fill="#262626" fill-opacity="1.0" stroke="#262626" stroke-width="0.06" stroke-opacity="0.8" textLength="24.6" lengthAdjust="spacingAndGlyphs">j am chem soc</text>
<text x="537.3" y="521.6" font-size="4.03" text-anchor="middle" dominant-baseline="central" fill="#262626" fill-opacity="1.0" stroke="#262626" stroke-width="0.06" stroke-opacity="0.8" textLength="16.8" lengthAdjust="spacingAndGlyphs">nano lett</text>
<text x="522.7" y="534.9" font-size="3.60" text-anchor="middle" dominant-baseline="central" fill="#262626" fill-opacity="1.0" stroke="#262626" stroke-width="0.05" stroke-opacity="0.8" textLength="33.9" lengthAdjust="spacingAndGlyphs">angew chem int edit</text>
<text x="465.0" y="543.7" font-size="3.47" text-anchor="middle" dominant-baseline="central" fill="#262626" fill-opacity="1.0" stroke="#262626" stroke-width="0.05" stroke-opacity="0.8" textLength="21.3" lengthAdjust="spacingAndGlyphs">chem soc rev</text>
<text x="490.1" y="544.2" font-size="3.97" text-anchor="middle" dominant-baseline="central" fill="#262626" fill-opacity="1.0" stroke="#262626" stroke-width="0.06" stroke-opacity="0.8" textLength="18.8" lengthAdjust="spacingAndGlyphs">adv mater</text>
<text x="526.5" y="547.9" font-size="5.00" text-anchor="middle" dominant-baseline="central" fill="#262626" fill-opacity="1.0" stroke="#262626" stroke-width="0.08" stroke-opacity="0.8" textLength="20.8" lengthAdjust="spacingAndGlyphs">acs nano</text>
<text x="452.5" y="555.5" font-size="4.41" text-anchor="middle" dominant-baseline="central" fill="#262626" fill-opacity="1.0" stroke="#262626" stroke-width="0.07" stroke-opacity="0.8" textLength="41.2" lengthAdjust="spacingAndGlyphs">acs appl mater inter</text>
<text x="483.9" y="562.2" font-size="4.24" text-anchor="middle" dominant-baseline="central" fill="#262626" fill-opacity="1.0" stroke="#262626" stroke-width="0.06" stroke-opacity="0.8" textLength="20.0" lengthAdjust="spacingAndGlyphs">nanoscale</text>
<text x="463.8" y="571.8" font-size="3.57" text-anchor="middle" dominant-baseline="central" fill="#262626" fill-opacity="1.0" stroke="#262626" stroke-width="0.05" stroke-opacity="0.8" textLength="26.4" lengthAdjust="spacingAndGlyphs">adv funct mater</text>
<text x="513.9" y="575.1" font-size="6.02" text-anchor="middle" dominant-baseline="central" fill="#262626" fill-opacity="1.0" stroke="#262626" stroke-width="0.09" stroke-opacity="0.8" textLength="35.1" lengthAdjust="spacingAndGlyphs">biomaterials</text>
<text x="526.5" y="585.1" font-size="4.22" text-anchor="middle" dominant-baseline="central" fill="#262626" fill-opacity="1.0" stroke="#262626" stroke-width="0.06" stroke-opacity="0.8" textLength="28.9" lengthAdjust="spacingAndGlyphs">ca-cancer j clin</text>
<text x="465.0" y="585.6" font-size="3.21" text-anchor="middle" dominant-baseline="central" fill="#262626" fill-opacity="1.0" stroke="#262626" stroke-width="0.05" stroke-opacity="0.8" textLength="22.6" lengthAdjust="spacingAndGlyphs">j mater chem b</text>
<text x="578.0" y="535.4" font-size="3.62" text-anchor="middle" dominant-baseline="central" fill="#262626" fill-opacity="1.0" stroke="#262626" stroke-width="0.05" stroke-opacity="0.8" textLength="24.4" lengthAdjust="spacingAndGlyphs">nat biotechnol</text>
<text x="576.7" y="544.2" font-size="3.78" text-anchor="middle" dominant-baseline="central" fill="#262626" fill-opacity="1.0" stroke="#262626" stroke-width="0.06" stroke-opacity="0.8" textLength="28.9" lengthAdjust="spacingAndGlyphs">nat nanotechnol</text>
<text x="584.2" y="558.5" font-size="3.67" text-anchor="middle" dominant-baseline="central" fill="#262626" fill-opacity="1.0" stroke="#262626" stroke-width="0.06" stroke-opacity="0.8" textLength="12.6" lengthAdjust="spacingAndGlyphs">science</text>
<text x="605.6" y="565.5" font-size="4.44" text-anchor="middle" dominant-baseline="central" fill="#262626" fill-opacity="1.0" stroke="#262626" stroke-width="0.07" stroke-opacity="0.8" textLength="37.7" lengthAdjust="spacingAndGlyphs">p natl acad sci usa</text>
<text x="578.0" y="586.4" font-size="3.92" text-anchor="middle" dominant-baseline="central" fill="#262626" fill-opacity="1.0" stroke="#262626" stroke-width="0.06" stroke-opacity="0.8" textLength="23.3" lengthAdjust="spacingAndGlyphs">nat commun</text>
<text x="603.0" y="593.9" font-size="5.12" text-anchor="middle" dominant-baseline="central" fill="#262626" fill-opacity="1.0" stroke="#262626" stroke-width="0.08" stroke-opacity="0.8" textLength="24.6" lengthAdjust="spacingAndGlyphs">cancer res</text>
<text x="563.6" y="599.5" font-size="2.72" text-anchor="middle" dominant-baseline="central" fill="#262626" fill-opacity="1.0" stroke="#262626" stroke-width="0.04" stroke-opacity="0.8" textLength="9.0" lengthAdjust="spacingAndGlyphs">biomat</text>
<text x="584.2" y="602.2" font-size="2.55" text-anchor="middle" dominant-baseline="central" fill="#262626" fill-opacity="1.0" stroke="#262626" stroke-width="0.04" stroke-opacity="0.8" textLength="13.0" lengthAdjust="spacingAndGlyphs">int j cancer</text>
<text x="621.0" y="613.2" font-size="3.16" text-anchor="middle" dominant-baseline="central" fill="#262626" fill-opacity="1.0" stroke="#262626" stroke-width="0.05" stroke-opacity="0.8" textLength="17.6" lengthAdjust="spacingAndGlyphs">j biomed sci</text>
<text x="568.7" y="616.6" font-size="3.95" text-anchor="middle" dominant-baseline="central" fill="#262626" fill-opacity="1.0" stroke="#262626" stroke-width="0.06" stroke-opacity="0.8" textLength="19.3" lengthAdjust="spacingAndGlyphs">cancer lett</text>
<text x="622.6" y="624.1" font-size="4.71" text-anchor="middle" dominant-baseline="central" fill="#262626" fill-opacity="1.0" stroke="#262626" stroke-width="0.07" stroke-opacity="0.8" textLength="32.2" lengthAdjust="spacingAndGlyphs">ca-cancer j clin</text>
<text x="581.7" y="629.1" font-size="4.22" text-anchor="middle" dominant-baseline="central" fill="#262626" fill-opacity="1.0" stroke="#262626" stroke-width="0.06" stroke-opacity="0.8" textLength="33.9" lengthAdjust="spacingAndGlyphs">breast cancer res</text>
<text x="613.1" y="642.4" font-size="4.19" text-anchor="middle" dominant-baseline="central" fill="#262626" fill-opacity="1.0" stroke="#262626" stroke-width="0.06" stroke-opacity="0.8" textLength="37.9" lengthAdjust="spacingAndGlyphs">breast cancer res tr</text>
<text x="569.9" y="650.5" font-size="4.16" text-anchor="middle" dominant-baseline="central" fill="#262626" fill-opacity="1.0" stroke="#262626" stroke-width="0.06" stroke-opacity="0.8" textLength="16.6" lengthAdjust="spacingAndGlyphs">plos one</text>
<text x="608.1" y="654.2" font-size="3.85" text-anchor="middle" dominant-baseline="central" fill="#262626" fill-opacity="1.0" stroke="#262626" stroke-width="0.06" stroke-opacity="0.8" textLength="18.8" lengthAdjust="spacingAndGlyphs">anticancer</text>
<text x="554.9" y="661.2" font-size="4.42" text-anchor="middle" dominant-baseline="central" fill="#262626" fill-opacity="1.0" stroke="#262626" stroke-width="0.07" stroke-opacity="0.8" textLength="15.8" lengthAdjust="spacingAndGlyphs">cancers</text>
<text x="584.2" y="663.5" font-size="4.33" text-anchor="middle" dominant-baseline="central" fill="#262626" fill-opacity="1.0" stroke="#262626" stroke-width="0.06" stroke-opacity="0.8" textLength="22.0" lengthAdjust="spacingAndGlyphs">oncotarget</text>
<text x="571.7" y="670.0" font-size="3.90" text-anchor="middle" dominant-baseline="central" fill="#262626" fill-opacity="1.0" stroke="#262626" stroke-width="0.06" stroke-opacity="0.8" textLength="20.0" lengthAdjust="spacingAndGlyphs">front oncol</text>
<text x="435.4" y="594.7" font-size="3.55" text-anchor="middle" dominant-baseline="central" fill="#262626" fill-opacity="1.0" stroke="#262626" stroke-width="0.05" stroke-opacity="0.8" textLength="32.6" lengthAdjust="spacingAndGlyphs">biomacromolecules</text>
<text x="509.7" y="599.7" font-size="4.12" text-anchor="middle" dominant-baseline="central" fill="#262626" fill-opacity="1.0" stroke="#262626" stroke-width="0.06" stroke-opacity="0.8" textLength="44.0" lengthAdjust="spacingAndGlyphs">nanomed-nanotechnol</text>
<text x="459.5" y="611.0" font-size="3.99" text-anchor="middle" dominant-baseline="central" fill="#262626" fill-opacity="1.0" stroke="#262626" stroke-width="0.06" stroke-opacity="0.8" textLength="25.9" lengthAdjust="spacingAndGlyphs">acta biomater</text>
<text x="517.7" y="611.5" font-size="4.14" text-anchor="middle" dominant-baseline="central" fill="#262626" fill-opacity="1.0" stroke="#262626" stroke-width="0.06" stroke-opacity="0.8" textLength="32.0" lengthAdjust="spacingAndGlyphs">mol pharmaceut</text>
<text x="527.7" y="620.8" font-size="5.80" text-anchor="middle" dominant-baseline="central" fill="#262626" fill-opacity="1.0" stroke="#262626" stroke-width="0.09" stroke-opacity="0.8" textLength="43.4" lengthAdjust="spacingAndGlyphs">j control release</text>
<text x="421.1" y="621.1" font-size="4.19" text-anchor="middle" dominant-baseline="central" fill="#262626" fill-opacity="1.0" stroke="#262626" stroke-width="0.06" stroke-opacity="0.8" textLength="36.7" lengthAdjust="spacingAndGlyphs">int j biol macromol</text>
<text x="463.8" y="623.6" font-size="3.83" text-anchor="middle" dominant-baseline="central" fill="#262626" fill-opacity="1.0" stroke="#262626" stroke-width="0.06" stroke-opacity="0.8" textLength="30.1" lengthAdjust="spacingAndGlyphs">j nanobiotechnol</text>
<text x="412.3" y="633.4" font-size="3.66" text-anchor="middle" dominant-baseline="central" fill="#262626" fill-opacity="1.0" stroke="#262626" stroke-width="0.05" stroke-opacity="0.8" textLength="29.1" lengthAdjust="spacingAndGlyphs">carbohydr polym</text>
<text x="456.2" y="637.2" font-size="4.11" text-anchor="middle" dominant-baseline="central" fill="#262626" fill-opacity="1.0" stroke="#262626" stroke-width="0.06" stroke-opacity="0.8" textLength="31.4" lengthAdjust="spacingAndGlyphs">colloid surface b</text>
<text x="502.7" y="640.4" font-size="4.20" text-anchor="middle" dominant-baseline="central" fill="#262626" fill-opacity="1.0" stroke="#262626" stroke-width="0.06" stroke-opacity="0.8" textLength="29.0" lengthAdjust="spacingAndGlyphs">pharmaceutics</text>
<text x="519.0" y="647.4" font-size="4.65" text-anchor="middle" dominant-baseline="central" fill="#262626" fill-opacity="1.0" stroke="#262626" stroke-width="0.07" stroke-opacity="0.8" textLength="21.0" lengthAdjust="spacingAndGlyphs">sci rep-uk</text>
<text x="449.5" y="650.5" font-size="3.68" text-anchor="middle" dominant-baseline="central" fill="#262626" fill-opacity="1.0" stroke="#262626" stroke-width="0.06" stroke-opacity="0.8" textLength="34.4" lengthAdjust="spacingAndGlyphs">artif cell nanomed b</text>
<text x="484.7" y="662.5" font-size="4.78" text-anchor="middle" dominant-baseline="central" fill="#262626" fill-opacity="1.0" stroke="#262626" stroke-width="0.07" stroke-opacity="0.8" textLength="36.7" lengthAdjust="spacingAndGlyphs">int j pharmaceut</text>
<text x="532.3" y="665.0" font-size="4.08" text-anchor="middle" dominant-baseline="central" fill="#262626" fill-opacity="1.0" stroke="#262626" stroke-width="0.06" stroke-opacity="0.8" textLength="21.5" lengthAdjust="spacingAndGlyphs">int j mol sci</text>
<text x="492.6" y="669.3" font-size="3.45" text-anchor="middle" dominant-baseline="central" fill="#262626" fill-opacity="1.0" stroke="#262626" stroke-width="0.05" stroke-opacity="0.8" textLength="16.0" lengthAdjust="spacingAndGlyphs">drug deliv</text>
<text x="468.8" y="672.6" font-size="3.59" text-anchor="middle" dominant-baseline="central" fill="#262626" fill-opacity="1.0" stroke="#262626" stroke-width="0.05" stroke-opacity="0.8" textLength="25.0" lengthAdjust="spacingAndGlyphs">eur j pharm sci</text>
<text x="511.4" y="674.3" font-size="4.07" text-anchor="middle" dominant-baseline="central" fill="#262626" fill-opacity="1.0" stroke="#262626" stroke-width="0.06" stroke-opacity="0.8" textLength="19.3" lengthAdjust="spacingAndGlyphs">molecules</text>
<text x="547.3" y="680.1" font-size="3.54" text-anchor="middle" dominant-baseline="central" fill="#262626" fill-opacity="1.0" stroke="#262626" stroke-width="0.05" stroke-opacity="0.8" textLength="26.9" lengthAdjust="spacingAndGlyphs">front pharmacol</text>
<text x="460.8" y="684.9" font-size="3.79" text-anchor="middle" dominant-baseline="central" fill="#262626" fill-opacity="1.0" stroke="#262626" stroke-width="0.06" stroke-opacity="0.8" textLength="31.4" lengthAdjust="spacingAndGlyphs">j drug deliv sci tec</text>
<text x="507.2" y="688.9" font-size="2.62" text-anchor="middle" dominant-baseline="central" fill="#262626" fill-opacity="1.0" stroke="#262626" stroke-width="0.04" stroke-opacity="0.8" textLength="27.6" lengthAdjust="spacingAndGlyphs">biomed pharmacother</text>
<rect x="352.0" y="688.3" width="42.0" height="14.5" rx="3.2" fill="#fff" stroke="#e6e6e6" stroke-width="0.9"/>
<path d="M355.50 699.70L358.34 691.40L359.92 691.40L363.40 698.46L361.66 699.45L359.45 695.97L357.87 699.70Z" fill="#3cc8b4"/>
<ellipse cx="357.08" cy="698.21" rx="1.34" ry="1.25" fill="#9ad840" fill-opacity="0.85"/>
<ellipse cx="361.98" cy="698.46" rx="1.11" ry="0.83" fill="#7ad870" fill-opacity="0.7"/>
<circle cx="359.06" cy="693.89" r="1.18" fill="#e0c040"/>
<circle cx="359.06" cy="693.89" r="0.63" fill="#d04030"/>
<text x="364.1" y="697.5" font-size="5.31" fill="#777" textLength="26.0" lengthAdjust="spacingAndGlyphs">VOSviewer</text>
<text transform="translate(365.50 513.80) scale(0.596 1)" font-size="17.59" fill="#111" stroke="#111" stroke-width="0.45">F</text>
</svg></body></html>
